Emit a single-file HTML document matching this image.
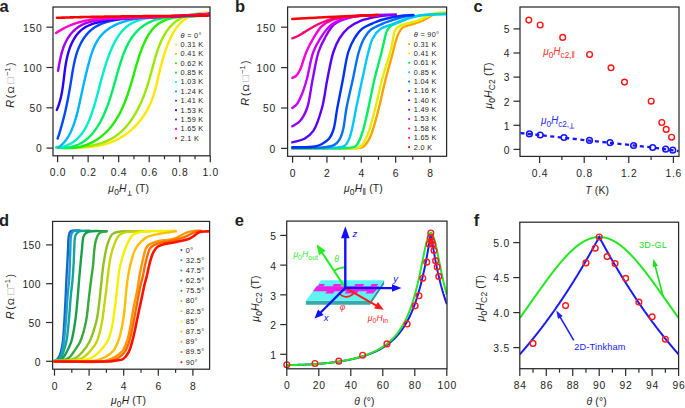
<!DOCTYPE html>
<html><head><meta charset="utf-8"><style>
html,body{margin:0;padding:0;background:#fff;}
body{width:685px;height:408px;overflow:hidden;}
svg{display:block;font-family:"Liberation Sans", sans-serif;}
text{fill:#1e1e1e;}
</style></head><body>
<svg width="685" height="408" viewBox="0 0 685 408">
<defs><clipPath id="cp0"><rect x="53" y="7" width="157" height="148.8"/></clipPath><clipPath id="cp1"><rect x="287.6" y="7" width="159" height="149.3"/></clipPath><clipPath id="cp2"><rect x="520" y="7" width="159" height="149.4"/></clipPath><clipPath id="cp3"><rect x="52.6" y="221.4" width="157" height="147.8"/></clipPath><clipPath id="cp4"><rect x="286.7" y="221.1" width="160.3" height="147.7"/></clipPath><clipPath id="cp5"><rect x="519.8" y="222.2" width="158.8" height="146.5"/></clipPath></defs>
<g clip-path="url(#cp0)">
<path d="M57.18,148.14 L58.42,148.11 L59.67,148.08 L60.92,148.05 L62.16,148.03 L63.41,148.01 L64.66,147.98 L65.91,147.96 L67.16,147.94 L68.41,147.91 L69.66,147.89 L70.91,147.86 L72.16,147.83 L73.41,147.80 L74.65,147.76 L75.90,147.73 L77.14,147.68 L78.39,147.63 L79.63,147.58 L80.86,147.52 L82.10,147.45 L83.33,147.37 L84.56,147.29 L85.79,147.20 L87.01,147.10 L88.23,146.99 L89.45,146.87 L90.66,146.74 L91.87,146.60 L93.08,146.45 L94.28,146.28 L95.47,146.11 L96.66,145.92 L97.85,145.71 L99.03,145.49 L100.20,145.26 L101.37,145.01 L102.53,144.75 L103.68,144.47 L104.83,144.17 L105.98,143.85 L107.11,143.52 L108.24,143.17 L109.36,142.80 L110.47,142.41 L111.58,142.00 L112.67,141.56 L113.76,141.11 L114.84,140.64 L115.91,140.14 L116.97,139.62 L118.03,139.08 L119.07,138.52 L120.11,137.94 L121.13,137.34 L122.14,136.72 L123.15,136.09 L124.14,135.43 L125.12,134.75 L126.10,134.06 L127.06,133.34 L128.01,132.61 L128.94,131.87 L129.87,131.10 L130.78,130.32 L131.69,129.52 L132.57,128.71 L133.45,127.88 L134.31,127.04 L135.17,126.18 L136.00,125.31 L136.83,124.42 L137.64,123.52 L138.43,122.60 L139.21,121.67 L139.98,120.73 L140.73,119.78 L141.47,118.82 L142.19,117.84 L142.90,116.85 L143.59,115.85 L144.27,114.84 L144.93,113.82 L145.57,112.79 L146.20,111.75 L146.81,110.70 L147.41,109.65 L147.98,108.58 L148.54,107.50 L149.09,106.42 L149.61,105.33 L150.12,104.23 L150.61,103.13 L151.08,102.02 L151.53,100.90 L151.96,99.78 L152.38,98.65 L152.78,97.51 L153.17,96.37 L153.54,95.23 L153.90,94.08 L154.25,92.93 L154.59,91.77 L154.92,90.60 L155.24,89.44 L155.54,88.27 L155.85,87.09 L156.14,85.92 L156.43,84.74 L156.72,83.56 L157.00,82.37 L157.28,81.18 L157.56,79.99 L157.83,78.80 L158.11,77.61 L158.38,76.42 L158.66,75.22 L158.94,74.03 L159.23,72.83 L159.52,71.63 L159.81,70.44 L160.11,69.24 L160.41,68.04 L160.72,66.85 L161.03,65.65 L161.35,64.46 L161.67,63.27 L162.00,62.08 L162.33,60.89 L162.67,59.70 L163.02,58.51 L163.37,57.33 L163.73,56.15 L164.10,54.97 L164.47,53.80 L164.85,52.63 L165.24,51.46 L165.63,50.30 L166.04,49.14 L166.45,47.99 L166.87,46.84 L167.29,45.69 L167.73,44.55 L168.18,43.42 L168.63,42.29 L169.10,41.17 L169.58,40.06 L170.07,38.96 L170.57,37.87 L171.09,36.80 L171.62,35.73 L172.17,34.68 L172.74,33.64 L173.32,32.62 L173.91,31.61 L174.53,30.62 L175.16,29.65 L175.82,28.69 L176.49,27.75 L177.19,26.84 L177.90,25.94 L178.64,25.07 L179.41,24.22 L180.19,23.39 L181.00,22.58 L181.84,21.81 L182.70,21.05 L183.59,20.33 L184.50,19.63 L185.44,18.96 L186.40,18.32 L187.39,17.71 L188.41,17.13 L189.45,16.58 L190.51,16.06 L191.60,15.58 L192.71,15.13 L193.85,14.72 L195.01,14.34 L196.20,14.00 L197.40,13.70 L198.63,13.44 L199.89,13.22 L201.16,13.03 L202.46,12.89 L203.78,12.79 L205.13,12.73 L206.49,12.72 L207.88,12.75 L209.28,12.83 L210.71,12.95" fill="none" stroke="#ffe800" stroke-width="2.4" stroke-linecap="round" stroke-linejoin="round" />
<path d="M57.73,147.74 L58.88,147.77 L60.04,147.79 L61.21,147.81 L62.39,147.83 L63.58,147.84 L64.77,147.84 L65.96,147.84 L67.16,147.84 L68.37,147.82 L69.58,147.80 L70.79,147.77 L72.01,147.73 L73.23,147.68 L74.45,147.63 L75.68,147.56 L76.90,147.49 L78.13,147.40 L79.36,147.30 L80.58,147.20 L81.81,147.08 L83.03,146.94 L84.25,146.80 L85.47,146.64 L86.69,146.47 L87.90,146.29 L89.11,146.09 L90.32,145.88 L91.52,145.65 L92.71,145.41 L93.90,145.15 L95.09,144.87 L96.26,144.58 L97.43,144.27 L98.59,143.95 L99.75,143.60 L100.89,143.24 L102.03,142.86 L103.15,142.46 L104.27,142.04 L105.37,141.60 L106.47,141.14 L107.55,140.66 L108.62,140.15 L109.67,139.63 L110.72,139.08 L111.75,138.51 L112.76,137.92 L113.76,137.31 L114.75,136.67 L115.72,136.00 L116.67,135.32 L117.61,134.61 L118.54,133.89 L119.45,133.14 L120.34,132.37 L121.23,131.58 L122.09,130.77 L122.95,129.94 L123.79,129.10 L124.61,128.24 L125.43,127.36 L126.22,126.46 L127.01,125.55 L127.78,124.62 L128.54,123.68 L129.28,122.72 L130.01,121.75 L130.73,120.76 L131.43,119.77 L132.12,118.76 L132.80,117.74 L133.47,116.71 L134.12,115.66 L134.76,114.61 L135.39,113.55 L136.01,112.48 L136.61,111.40 L137.21,110.31 L137.79,109.22 L138.36,108.12 L138.91,107.01 L139.46,105.90 L139.99,104.78 L140.51,103.66 L141.02,102.53 L141.52,101.40 L142.01,100.27 L142.49,99.13 L142.96,98.00 L143.41,96.86 L143.86,95.72 L144.29,94.58 L144.72,93.44 L145.13,92.30 L145.54,91.17 L145.93,90.03 L146.32,88.90 L146.69,87.76 L147.06,86.63 L147.42,85.50 L147.77,84.37 L148.12,83.24 L148.46,82.11 L148.80,80.97 L149.13,79.84 L149.45,78.71 L149.77,77.57 L150.09,76.43 L150.41,75.29 L150.73,74.15 L151.04,73.00 L151.35,71.86 L151.66,70.70 L151.98,69.55 L152.29,68.39 L152.60,67.23 L152.92,66.06 L153.24,64.88 L153.56,63.71 L153.89,62.52 L154.22,61.34 L154.55,60.15 L154.89,58.96 L155.24,57.77 L155.59,56.57 L155.95,55.38 L156.32,54.19 L156.69,53.00 L157.08,51.82 L157.47,50.64 L157.87,49.46 L158.29,48.30 L158.71,47.13 L159.15,45.98 L159.60,44.83 L160.06,43.70 L160.53,42.57 L161.02,41.45 L161.52,40.35 L162.04,39.26 L162.57,38.19 L163.12,37.12 L163.69,36.08 L164.27,35.05 L164.87,34.03 L165.49,33.04 L166.12,32.06 L166.77,31.10 L167.45,30.16 L168.14,29.24 L168.85,28.34 L169.58,27.45 L170.33,26.60 L171.10,25.76 L171.90,24.94 L172.71,24.15 L173.55,23.39 L174.40,22.64 L175.29,21.92 L176.19,21.23 L177.12,20.57 L178.07,19.93 L179.04,19.32 L180.04,18.73 L181.07,18.18 L182.12,17.66 L183.19,17.16 L184.29,16.70 L185.41,16.26 L186.56,15.86 L187.72,15.49 L188.90,15.16 L190.10,14.85 L191.31,14.59 L192.54,14.35 L193.79,14.16 L195.05,13.99 L196.31,13.87 L197.59,13.78 L198.88,13.73 L200.18,13.72 L201.48,13.75 L202.79,13.82 L204.10,13.92 L205.41,14.07 L206.73,14.26 L208.05,14.50 L209.36,14.77 L210.68,15.09" fill="none" stroke="#99ea00" stroke-width="2.4" stroke-linecap="round" stroke-linejoin="round" />
<path d="M56.94,146.99 L58.27,147.25 L59.60,147.47 L60.92,147.67 L62.23,147.83 L63.53,147.96 L64.83,148.05 L66.12,148.12 L67.40,148.15 L68.67,148.16 L69.93,148.13 L71.19,148.07 L72.43,147.99 L73.67,147.87 L74.90,147.73 L76.12,147.55 L77.32,147.35 L78.52,147.12 L79.71,146.87 L80.89,146.59 L82.05,146.28 L83.21,145.94 L84.36,145.58 L85.49,145.20 L86.61,144.79 L87.72,144.35 L88.82,143.90 L89.91,143.41 L90.98,142.91 L92.05,142.38 L93.10,141.83 L94.13,141.26 L95.16,140.66 L96.17,140.05 L97.16,139.41 L98.15,138.76 L99.12,138.08 L100.07,137.38 L101.01,136.67 L101.94,135.93 L102.85,135.18 L103.75,134.41 L104.63,133.62 L105.49,132.81 L106.34,131.99 L107.18,131.15 L108.00,130.30 L108.80,129.43 L109.58,128.54 L110.35,127.64 L111.11,126.72 L111.85,125.79 L112.57,124.85 L113.28,123.89 L113.97,122.92 L114.65,121.94 L115.31,120.94 L115.96,119.94 L116.59,118.92 L117.22,117.89 L117.83,116.85 L118.42,115.80 L119.01,114.74 L119.58,113.68 L120.14,112.60 L120.68,111.51 L121.22,110.42 L121.75,109.32 L122.26,108.21 L122.76,107.09 L123.26,105.97 L123.74,104.84 L124.21,103.70 L124.68,102.56 L125.13,101.42 L125.58,100.27 L126.01,99.11 L126.44,97.96 L126.86,96.79 L127.28,95.63 L127.68,94.46 L128.08,93.29 L128.47,92.12 L128.86,90.95 L129.24,89.77 L129.61,88.60 L129.98,87.43 L130.34,86.25 L130.69,85.08 L131.04,83.90 L131.39,82.73 L131.73,81.56 L132.07,80.39 L132.41,79.23 L132.74,78.06 L133.07,76.91 L133.39,75.75 L133.71,74.60 L134.03,73.45 L134.36,72.30 L134.68,71.15 L135.00,70.01 L135.32,68.87 L135.64,67.72 L135.97,66.58 L136.30,65.44 L136.63,64.30 L136.97,63.17 L137.31,62.03 L137.66,60.89 L138.01,59.74 L138.37,58.60 L138.74,57.46 L139.12,56.31 L139.50,55.17 L139.90,54.02 L140.30,52.86 L140.72,51.71 L141.14,50.55 L141.58,49.39 L142.03,48.22 L142.50,47.06 L142.97,45.89 L143.46,44.73 L143.97,43.57 L144.49,42.42 L145.03,41.28 L145.58,40.15 L146.15,39.03 L146.73,37.93 L147.33,36.84 L147.95,35.77 L148.59,34.71 L149.25,33.68 L149.92,32.68 L150.62,31.69 L151.33,30.73 L152.07,29.81 L152.82,28.91 L153.60,28.04 L154.40,27.21 L155.22,26.41 L156.07,25.65 L156.94,24.93 L157.83,24.25 L158.74,23.60 L159.67,22.99 L160.63,22.41 L161.60,21.86 L162.59,21.34 L163.60,20.86 L164.63,20.40 L165.67,19.98 L166.73,19.58 L167.81,19.20 L168.90,18.85 L170.01,18.53 L171.13,18.23 L172.26,17.95 L173.41,17.69 L174.57,17.45 L175.74,17.23 L176.92,17.02 L178.11,16.84 L179.31,16.66 L180.51,16.51 L181.73,16.36 L182.95,16.23 L184.18,16.11 L185.42,16.00 L186.66,15.90 L187.91,15.80 L189.16,15.71 L190.41,15.63 L191.67,15.56 L192.93,15.48 L194.19,15.41 L195.45,15.34 L196.71,15.27 L197.98,15.20 L199.24,15.13 L200.50,15.05 L201.75,14.97 L203.01,14.89 L204.26,14.80 L205.50,14.70 L206.74,14.59 L207.98,14.48 L209.21,14.35 L210.43,14.21" fill="none" stroke="#22ee00" stroke-width="2.4" stroke-linecap="round" stroke-linejoin="round" />
<path d="M56.21,147.46 L57.73,147.62 L59.23,147.74 L60.69,147.82 L62.13,147.84 L63.54,147.83 L64.92,147.76 L66.27,147.66 L67.60,147.52 L68.89,147.33 L70.17,147.11 L71.41,146.84 L72.63,146.54 L73.82,146.20 L74.99,145.82 L76.14,145.41 L77.26,144.97 L78.35,144.49 L79.43,143.97 L80.47,143.43 L81.50,142.85 L82.50,142.25 L83.49,141.61 L84.45,140.95 L85.38,140.26 L86.30,139.54 L87.20,138.80 L88.07,138.03 L88.93,137.24 L89.77,136.42 L90.59,135.58 L91.39,134.72 L92.17,133.84 L92.93,132.94 L93.67,132.03 L94.40,131.09 L95.11,130.14 L95.81,129.17 L96.48,128.19 L97.14,127.19 L97.79,126.18 L98.42,125.15 L99.04,124.12 L99.64,123.07 L100.23,122.02 L100.80,120.95 L101.37,119.88 L101.91,118.80 L102.45,117.71 L102.97,116.62 L103.49,115.52 L103.99,114.42 L104.48,113.31 L104.96,112.20 L105.43,111.08 L105.88,109.96 L106.33,108.84 L106.77,107.71 L107.20,106.58 L107.63,105.44 L108.04,104.30 L108.45,103.16 L108.85,102.01 L109.24,100.86 L109.63,99.71 L110.01,98.55 L110.38,97.39 L110.75,96.23 L111.11,95.07 L111.47,93.90 L111.83,92.73 L112.18,91.56 L112.52,90.39 L112.87,89.22 L113.21,88.04 L113.55,86.87 L113.88,85.69 L114.22,84.51 L114.55,83.33 L114.88,82.15 L115.21,80.97 L115.54,79.79 L115.87,78.61 L116.20,77.43 L116.54,76.24 L116.87,75.06 L117.20,73.88 L117.54,72.70 L117.88,71.52 L118.22,70.34 L118.56,69.16 L118.91,67.98 L119.26,66.81 L119.62,65.63 L119.98,64.46 L120.35,63.29 L120.72,62.12 L121.09,60.95 L121.47,59.78 L121.86,58.62 L122.26,57.46 L122.67,56.31 L123.08,55.16 L123.51,54.02 L123.94,52.88 L124.39,51.76 L124.85,50.63 L125.32,49.52 L125.80,48.42 L126.30,47.32 L126.81,46.24 L127.34,45.17 L127.88,44.10 L128.44,43.06 L129.02,42.02 L129.62,40.99 L130.23,39.98 L130.87,38.99 L131.52,38.01 L132.19,37.05 L132.89,36.10 L133.61,35.17 L134.34,34.26 L135.10,33.36 L135.88,32.49 L136.68,31.63 L137.49,30.79 L138.33,29.98 L139.18,29.18 L140.06,28.41 L140.95,27.66 L141.86,26.94 L142.79,26.24 L143.74,25.56 L144.70,24.91 L145.68,24.28 L146.68,23.68 L147.70,23.11 L148.73,22.57 L149.78,22.05 L150.84,21.56 L151.92,21.10 L153.02,20.68 L154.13,20.28 L155.25,19.91 L156.39,19.57 L157.54,19.26 L158.71,18.98 L159.89,18.71 L161.07,18.48 L162.27,18.26 L163.48,18.07 L164.70,17.89 L165.92,17.74 L167.15,17.60 L168.39,17.47 L169.64,17.37 L170.89,17.27 L172.14,17.19 L173.40,17.12 L174.66,17.05 L175.93,17.00 L177.19,16.95 L178.46,16.91 L179.73,16.87 L180.99,16.84 L182.26,16.81 L183.52,16.78 L184.78,16.75 L186.04,16.72 L187.29,16.68 L188.54,16.64 L189.79,16.60 L191.02,16.55 L192.26,16.49 L193.48,16.42 L194.70,16.34 L195.90,16.25 L197.10,16.14 L198.29,16.02 L199.47,15.89 L200.63,15.74 L201.79,15.57 L202.93,15.38 L204.06,15.17 L205.17,14.94 L206.27,14.69 L207.36,14.41 L208.43,14.11 L209.48,13.78" fill="none" stroke="#00ee66" stroke-width="2.4" stroke-linecap="round" stroke-linejoin="round" />
<path d="M57.22,147.89 L58.61,147.69 L59.96,147.45 L61.28,147.17 L62.56,146.86 L63.81,146.50 L65.02,146.11 L66.20,145.68 L67.35,145.22 L68.47,144.72 L69.55,144.18 L70.60,143.62 L71.62,143.02 L72.61,142.39 L73.58,141.73 L74.51,141.04 L75.42,140.33 L76.30,139.58 L77.15,138.81 L77.98,138.01 L78.78,137.19 L79.56,136.34 L80.31,135.47 L81.04,134.58 L81.75,133.67 L82.44,132.73 L83.10,131.77 L83.75,130.80 L84.37,129.81 L84.98,128.80 L85.56,127.77 L86.13,126.73 L86.68,125.67 L87.22,124.60 L87.74,123.51 L88.24,122.42 L88.73,121.31 L89.21,120.19 L89.67,119.06 L90.12,117.92 L90.56,116.78 L90.98,115.62 L91.40,114.46 L91.80,113.30 L92.20,112.13 L92.59,110.96 L92.96,109.78 L93.34,108.60 L93.70,107.42 L94.06,106.25 L94.41,105.07 L94.76,103.89 L95.10,102.71 L95.44,101.53 L95.78,100.35 L96.11,99.17 L96.44,98.00 L96.76,96.82 L97.08,95.64 L97.40,94.47 L97.71,93.29 L98.03,92.12 L98.34,90.94 L98.65,89.77 L98.96,88.59 L99.27,87.42 L99.58,86.25 L99.89,85.07 L100.20,83.90 L100.51,82.73 L100.82,81.56 L101.14,80.39 L101.45,79.22 L101.77,78.06 L102.09,76.89 L102.41,75.72 L102.74,74.56 L103.07,73.39 L103.40,72.23 L103.74,71.07 L104.08,69.91 L104.42,68.75 L104.78,67.59 L105.13,66.43 L105.50,65.27 L105.86,64.11 L106.24,62.96 L106.62,61.80 L107.01,60.65 L107.41,59.50 L107.81,58.35 L108.23,57.20 L108.65,56.05 L109.08,54.90 L109.52,53.76 L109.96,52.61 L110.42,51.47 L110.89,50.33 L111.37,49.19 L111.86,48.06 L112.36,46.94 L112.88,45.82 L113.41,44.71 L113.95,43.61 L114.50,42.52 L115.07,41.44 L115.66,40.38 L116.26,39.33 L116.87,38.29 L117.51,37.27 L118.15,36.27 L118.82,35.29 L119.50,34.33 L120.21,33.39 L120.93,32.47 L121.67,31.58 L122.43,30.71 L123.21,29.86 L124.01,29.04 L124.83,28.25 L125.67,27.49 L126.54,26.76 L127.43,26.06 L128.34,25.40 L129.28,24.76 L130.23,24.16 L131.21,23.59 L132.21,23.04 L133.23,22.53 L134.26,22.04 L135.32,21.58 L136.39,21.15 L137.47,20.74 L138.57,20.36 L139.69,20.00 L140.82,19.67 L141.96,19.35 L143.11,19.06 L144.28,18.79 L145.45,18.54 L146.64,18.31 L147.83,18.09 L149.03,17.90 L150.24,17.72 L151.46,17.55 L152.68,17.40 L153.90,17.27 L155.13,17.14 L156.36,17.03 L157.59,16.94 L158.83,16.85 L160.07,16.77 L161.31,16.71 L162.55,16.65 L163.80,16.60 L165.04,16.56 L166.29,16.52 L167.53,16.50 L168.78,16.47 L170.03,16.45 L171.27,16.44 L172.52,16.43 L173.77,16.42 L175.01,16.42 L176.26,16.41 L177.50,16.41 L178.74,16.41 L179.98,16.40 L181.21,16.40 L182.45,16.39 L183.68,16.38 L184.90,16.36 L186.13,16.35 L187.35,16.32 L188.57,16.29 L189.78,16.26 L190.98,16.22 L192.19,16.17 L193.38,16.11 L194.58,16.04 L195.76,15.96 L196.94,15.88 L198.12,15.78 L199.29,15.67 L200.45,15.54 L201.60,15.41 L202.75,15.25 L203.89,15.09 L205.02,14.91 L206.14,14.71 L207.26,14.50 L208.36,14.27 L209.46,14.02" fill="none" stroke="#00eecc" stroke-width="2.4" stroke-linecap="round" stroke-linejoin="round" />
<path d="M58.48,147.28 L59.46,146.57 L60.40,145.84 L61.30,145.08 L62.17,144.28 L63.01,143.47 L63.81,142.62 L64.58,141.75 L65.32,140.86 L66.03,139.94 L66.71,139.00 L67.36,138.04 L67.99,137.06 L68.59,136.06 L69.17,135.04 L69.72,134.01 L70.26,132.96 L70.77,131.90 L71.26,130.83 L71.74,129.74 L72.20,128.64 L72.64,127.53 L73.07,126.42 L73.48,125.29 L73.88,124.16 L74.27,123.03 L74.65,121.88 L75.02,120.74 L75.38,119.58 L75.73,118.42 L76.07,117.26 L76.40,116.10 L76.72,114.93 L77.03,113.75 L77.34,112.58 L77.64,111.40 L77.93,110.22 L78.22,109.03 L78.50,107.85 L78.78,106.66 L79.05,105.47 L79.32,104.28 L79.58,103.09 L79.84,101.90 L80.10,100.71 L80.36,99.52 L80.61,98.33 L80.87,97.14 L81.12,95.96 L81.37,94.77 L81.63,93.59 L81.88,92.40 L82.13,91.22 L82.39,90.04 L82.65,88.87 L82.90,87.69 L83.16,86.51 L83.42,85.33 L83.68,84.16 L83.95,82.98 L84.21,81.80 L84.48,80.62 L84.75,79.45 L85.02,78.27 L85.30,77.08 L85.58,75.90 L85.86,74.72 L86.15,73.53 L86.44,72.34 L86.73,71.15 L87.03,69.95 L87.33,68.76 L87.63,67.56 L87.94,66.35 L88.26,65.14 L88.58,63.93 L88.91,62.72 L89.24,61.50 L89.58,60.29 L89.92,59.07 L90.28,57.86 L90.65,56.65 L91.03,55.44 L91.42,54.24 L91.82,53.05 L92.23,51.87 L92.66,50.70 L93.11,49.54 L93.57,48.39 L94.04,47.26 L94.54,46.14 L95.05,45.04 L95.58,43.95 L96.13,42.89 L96.71,41.84 L97.30,40.82 L97.92,39.82 L98.56,38.85 L99.22,37.90 L99.92,36.97 L100.63,36.08 L101.37,35.21 L102.14,34.37 L102.92,33.55 L103.74,32.76 L104.57,31.99 L105.42,31.25 L106.30,30.54 L107.20,29.85 L108.11,29.18 L109.05,28.53 L110.00,27.91 L110.98,27.31 L111.97,26.73 L112.98,26.17 L114.00,25.64 L115.04,25.12 L116.10,24.63 L117.17,24.15 L118.25,23.70 L119.35,23.26 L120.46,22.84 L121.58,22.44 L122.72,22.06 L123.86,21.70 L125.02,21.35 L126.19,21.02 L127.36,20.70 L128.55,20.40 L129.74,20.12 L130.94,19.85 L132.15,19.59 L133.36,19.35 L134.58,19.12 L135.81,18.91 L137.04,18.70 L138.27,18.52 L139.51,18.34 L140.75,18.17 L141.99,18.02 L143.24,17.87 L144.48,17.74 L145.73,17.61 L146.97,17.50 L148.22,17.39 L149.46,17.29 L150.71,17.20 L151.95,17.12 L153.18,17.05 L154.42,16.98 L155.65,16.92 L156.88,16.86 L158.10,16.81 L159.32,16.77 L160.54,16.73 L161.76,16.70 L162.97,16.66 L164.18,16.64 L165.39,16.61 L166.60,16.59 L167.81,16.57 L169.01,16.55 L170.21,16.54 L171.41,16.52 L172.61,16.51 L173.81,16.49 L175.01,16.48 L176.21,16.47 L177.41,16.45 L178.60,16.43 L179.80,16.41 L181.00,16.39 L182.19,16.37 L183.39,16.34 L184.58,16.31 L185.78,16.27 L186.98,16.23 L188.18,16.19 L189.38,16.14 L190.58,16.09 L191.78,16.03 L192.98,15.96 L194.19,15.88 L195.39,15.80 L196.60,15.71 L197.81,15.62 L199.02,15.51 L200.24,15.40 L201.45,15.27 L202.67,15.14 L203.89,14.99 L205.12,14.84 L206.35,14.67 L207.58,14.49 L208.81,14.31 L210.05,14.10" fill="none" stroke="#00b4ff" stroke-width="2.4" stroke-linecap="round" stroke-linejoin="round" />
<path d="M57.61,138.60 L58.01,137.40 L58.40,136.21 L58.79,135.02 L59.16,133.83 L59.54,132.64 L59.90,131.46 L60.26,130.28 L60.61,129.11 L60.96,127.93 L61.30,126.76 L61.63,125.59 L61.96,124.42 L62.28,123.26 L62.60,122.09 L62.91,120.93 L63.21,119.77 L63.51,118.61 L63.81,117.45 L64.10,116.29 L64.38,115.13 L64.66,113.97 L64.94,112.81 L65.21,111.65 L65.48,110.49 L65.74,109.34 L66.00,108.18 L66.25,107.02 L66.50,105.85 L66.75,104.69 L66.99,103.53 L67.23,102.36 L67.47,101.20 L67.70,100.03 L67.93,98.86 L68.16,97.68 L68.38,96.51 L68.60,95.33 L68.82,94.15 L69.03,92.97 L69.25,91.78 L69.46,90.59 L69.67,89.40 L69.87,88.20 L70.08,87.01 L70.28,85.80 L70.48,84.59 L70.68,83.38 L70.88,82.17 L71.07,80.94 L71.27,79.72 L71.46,78.49 L71.66,77.25 L71.86,76.02 L72.05,74.78 L72.25,73.54 L72.46,72.30 L72.67,71.06 L72.88,69.82 L73.10,68.58 L73.33,67.34 L73.56,66.10 L73.80,64.87 L74.06,63.64 L74.32,62.42 L74.59,61.20 L74.87,59.98 L75.17,58.78 L75.48,57.58 L75.80,56.39 L76.14,55.20 L76.50,54.03 L76.87,52.86 L77.26,51.71 L77.66,50.57 L78.09,49.44 L78.53,48.32 L79.00,47.22 L79.48,46.12 L79.98,45.05 L80.50,43.99 L81.04,42.94 L81.60,41.91 L82.18,40.90 L82.78,39.91 L83.39,38.93 L84.03,37.98 L84.70,37.04 L85.38,36.13 L86.08,35.23 L86.80,34.36 L87.55,33.51 L88.31,32.68 L89.10,31.88 L89.91,31.11 L90.74,30.35 L91.60,29.63 L92.47,28.93 L93.37,28.26 L94.29,27.61 L95.24,27.00 L96.20,26.41 L97.19,25.85 L98.20,25.32 L99.23,24.81 L100.28,24.33 L101.34,23.88 L102.42,23.45 L103.52,23.04 L104.64,22.65 L105.76,22.29 L106.91,21.94 L108.06,21.62 L109.23,21.32 L110.41,21.03 L111.59,20.76 L112.79,20.51 L113.99,20.28 L115.21,20.06 L116.42,19.85 L117.65,19.66 L118.88,19.48 L120.11,19.32 L121.34,19.16 L122.58,19.02 L123.82,18.89 L125.06,18.76 L126.30,18.65 L127.54,18.54 L128.78,18.44 L130.02,18.35 L131.26,18.27 L132.50,18.19 L133.75,18.12 L134.99,18.05 L136.23,17.99 L137.47,17.93 L138.71,17.88 L139.95,17.82 L141.18,17.78 L142.42,17.73 L143.65,17.68 L144.88,17.64 L146.11,17.60 L147.34,17.55 L148.57,17.51 L149.79,17.46 L151.01,17.42 L152.22,17.37 L153.44,17.32 L154.65,17.27 L155.86,17.21 L157.06,17.16 L158.27,17.10 L159.47,17.04 L160.67,16.99 L161.87,16.93 L163.07,16.87 L164.26,16.80 L165.46,16.74 L166.65,16.68 L167.84,16.61 L169.03,16.55 L170.23,16.48 L171.42,16.42 L172.61,16.35 L173.80,16.29 L174.99,16.22 L176.18,16.15 L177.37,16.09 L178.56,16.02 L179.75,15.95 L180.94,15.89 L182.14,15.82 L183.33,15.75 L184.53,15.69 L185.72,15.62 L186.92,15.56 L188.12,15.49 L189.32,15.43 L190.53,15.36 L191.73,15.30 L192.94,15.24 L194.15,15.18 L195.36,15.12 L196.58,15.06 L197.80,15.01 L199.02,14.95 L200.24,14.90 L201.47,14.84 L202.70,14.79 L203.94,14.74 L205.17,14.69 L206.42,14.65 L207.66,14.60 L208.91,14.56 L210.17,14.52" fill="none" stroke="#0048ff" stroke-width="2.4" stroke-linecap="round" stroke-linejoin="round" />
<path d="M56.76,109.97 L57.23,108.89 L57.67,107.81 L58.10,106.72 L58.50,105.62 L58.88,104.51 L59.25,103.39 L59.59,102.27 L59.92,101.13 L60.23,99.99 L60.52,98.85 L60.80,97.70 L61.06,96.54 L61.32,95.37 L61.55,94.20 L61.78,93.02 L61.99,91.84 L62.20,90.66 L62.39,89.47 L62.58,88.27 L62.76,87.07 L62.93,85.87 L63.09,84.66 L63.25,83.45 L63.41,82.24 L63.56,81.02 L63.70,79.80 L63.85,78.58 L63.99,77.36 L64.14,76.13 L64.29,74.90 L64.43,73.68 L64.59,72.45 L64.74,71.22 L64.90,69.99 L65.07,68.76 L65.24,67.53 L65.43,66.30 L65.62,65.07 L65.82,63.84 L66.03,62.62 L66.26,61.39 L66.49,60.17 L66.74,58.94 L67.01,57.73 L67.29,56.51 L67.59,55.29 L67.91,54.08 L68.24,52.88 L68.60,51.68 L68.97,50.49 L69.36,49.30 L69.78,48.13 L70.21,46.96 L70.66,45.81 L71.14,44.68 L71.63,43.56 L72.15,42.46 L72.69,41.37 L73.25,40.31 L73.83,39.27 L74.44,38.24 L75.07,37.25 L75.73,36.28 L76.41,35.33 L77.11,34.42 L77.84,33.53 L78.60,32.67 L79.38,31.85 L80.19,31.06 L81.02,30.31 L81.88,29.59 L82.77,28.91 L83.69,28.26 L84.63,27.65 L85.59,27.07 L86.57,26.52 L87.58,26.01 L88.61,25.52 L89.65,25.06 L90.71,24.63 L91.79,24.22 L92.89,23.83 L94.00,23.47 L95.12,23.13 L96.26,22.81 L97.40,22.51 L98.56,22.22 L99.72,21.95 L100.90,21.70 L102.08,21.45 L103.26,21.22 L104.45,21.00 L105.64,20.79 L106.84,20.59 L108.03,20.40 L109.23,20.21 L110.43,20.03 L111.63,19.86 L112.84,19.69 L114.04,19.53 L115.25,19.38 L116.46,19.24 L117.67,19.10 L118.88,18.96 L120.09,18.84 L121.31,18.71 L122.52,18.60 L123.74,18.49 L124.95,18.38 L126.17,18.28 L127.39,18.19 L128.61,18.10 L129.83,18.01 L131.06,17.93 L132.28,17.85 L133.50,17.78 L134.73,17.71 L135.95,17.64 L137.18,17.58 L138.40,17.52 L139.63,17.46 L140.86,17.41 L142.08,17.36 L143.31,17.31 L144.54,17.27 L145.77,17.22 L147.00,17.18 L148.22,17.14 L149.45,17.11 L150.68,17.07 L151.91,17.04 L153.13,17.00 L154.36,16.97 L155.59,16.94 L156.82,16.91 L158.04,16.88 L159.27,16.85 L160.49,16.82 L161.72,16.79 L162.94,16.76 L164.16,16.73 L165.39,16.70 L166.61,16.67 L167.83,16.63 L169.05,16.60 L170.27,16.56 L171.49,16.53 L172.70,16.49 L173.92,16.45 L175.13,16.41 L176.35,16.36 L177.56,16.32 L178.77,16.27 L179.98,16.22 L181.19,16.16 L182.39,16.11 L183.60,16.05 L184.80,15.98 L186.00,15.91 L187.20,15.84 L188.40,15.77 L189.59,15.69 L190.79,15.61 L191.98,15.52 L193.17,15.43 L194.35,15.33 L195.54,15.23 L196.72,15.12 L197.90,15.01 L199.08,14.89 L200.26,14.76 L201.43,14.63 L202.60,14.50 L203.77,14.36 L204.93,14.21 L206.10,14.05 L207.26,13.89 L208.41,13.72 L209.57,13.55" fill="none" stroke="#2a00ff" stroke-width="2.4" stroke-linecap="round" stroke-linejoin="round" />
<path d="M58.03,70.72 L58.26,69.48 L58.48,68.22 L58.70,66.97 L58.93,65.71 L59.16,64.44 L59.40,63.18 L59.64,61.91 L59.89,60.65 L60.15,59.39 L60.42,58.13 L60.71,56.87 L61.00,55.63 L61.31,54.39 L61.64,53.15 L61.98,51.93 L62.34,50.72 L62.72,49.52 L63.12,48.34 L63.53,47.16 L63.97,46.01 L64.44,44.87 L64.93,43.75 L65.44,42.64 L65.97,41.56 L66.53,40.50 L67.11,39.45 L67.71,38.43 L68.34,37.43 L68.99,36.46 L69.66,35.51 L70.36,34.58 L71.08,33.68 L71.82,32.81 L72.58,31.96 L73.36,31.14 L74.17,30.35 L75.00,29.59 L75.86,28.86 L76.73,28.16 L77.63,27.50 L78.55,26.87 L79.49,26.27 L80.45,25.70 L81.43,25.16 L82.43,24.65 L83.45,24.17 L84.49,23.72 L85.54,23.30 L86.61,22.90 L87.70,22.53 L88.80,22.18 L89.92,21.85 L91.05,21.55 L92.20,21.27 L93.35,21.01 L94.52,20.77 L95.70,20.55 L96.89,20.34 L98.09,20.15 L99.30,19.98 L100.52,19.83 L101.74,19.68 L102.98,19.55 L104.21,19.44 L105.46,19.33 L106.70,19.23 L107.96,19.15 L109.21,19.07 L110.47,19.00 L111.73,18.94 L112.99,18.88 L114.26,18.83 L115.52,18.78 L116.78,18.73 L118.04,18.69 L119.30,18.65 L120.55,18.60 L121.80,18.56 L123.05,18.52 L124.30,18.47 L125.54,18.42 L126.77,18.38 L128.01,18.33 L129.24,18.28 L130.47,18.23 L131.69,18.17 L132.91,18.12 L134.13,18.07 L135.35,18.01 L136.56,17.96 L137.77,17.90 L138.98,17.84 L140.19,17.79 L141.39,17.73 L142.59,17.67 L143.79,17.61 L144.99,17.55 L146.19,17.49 L147.39,17.42 L148.58,17.36 L149.77,17.30 L150.97,17.23 L152.16,17.17 L153.35,17.10 L154.54,17.04 L155.73,16.97 L156.91,16.91 L158.10,16.84 L159.29,16.77 L160.48,16.71 L161.66,16.64 L162.85,16.57 L164.04,16.50 L165.23,16.44 L166.41,16.37 L167.60,16.30 L168.79,16.23 L169.98,16.16 L171.17,16.09 L172.36,16.02 L173.56,15.95 L174.75,15.89 L175.95,15.82 L177.14,15.75 L178.34,15.68 L179.54,15.61 L180.74,15.54 L181.95,15.47 L183.15,15.40 L184.36,15.34 L185.57,15.27 L186.78,15.20 L188.00,15.13 L189.21,15.07 L190.43,15.00 L191.66,14.93 L192.88,14.87 L194.11,14.80 L195.34,14.74 L196.58,14.67 L197.82,14.61 L199.06,14.55 L200.30,14.48 L201.55,14.42 L202.81,14.36 L204.06,14.30 L205.32,14.24 L206.59,14.18 L207.86,14.12 L209.13,14.06 L210.41,14.00" fill="none" stroke="#a000ff" stroke-width="2.4" stroke-linecap="round" stroke-linejoin="round" />
<path d="M56.13,32.99 L57.21,32.26 L58.29,31.56 L59.37,30.87 L60.45,30.22 L61.54,29.58 L62.64,28.97 L63.74,28.37 L64.84,27.80 L65.94,27.25 L67.05,26.73 L68.16,26.22 L69.28,25.73 L70.40,25.26 L71.52,24.81 L72.65,24.38 L73.78,23.97 L74.91,23.58 L76.04,23.20 L77.18,22.84 L78.32,22.50 L79.47,22.18 L80.62,21.87 L81.77,21.57 L82.92,21.29 L84.08,21.03 L85.24,20.78 L86.40,20.54 L87.56,20.32 L88.73,20.11 L89.90,19.91 L91.07,19.73 L92.25,19.55 L93.43,19.39 L94.61,19.24 L95.79,19.10 L96.97,18.97 L98.16,18.85 L99.35,18.74 L100.54,18.64 L101.73,18.55 L102.92,18.46 L104.12,18.38 L105.32,18.31 L106.52,18.25 L107.72,18.20 L108.92,18.14 L110.13,18.10 L111.34,18.06 L112.54,18.03 L113.75,18.00 L114.97,17.97 L116.18,17.95 L117.39,17.93 L118.61,17.91 L119.82,17.90 L121.04,17.89 L122.26,17.88 L123.48,17.87 L124.70,17.86 L125.92,17.85 L127.15,17.84 L128.37,17.83 L129.60,17.82 L130.82,17.81 L132.05,17.80 L133.27,17.79 L134.50,17.77 L135.73,17.75 L136.96,17.73 L138.19,17.70 L139.42,17.68 L140.65,17.65 L141.88,17.62 L143.11,17.58 L144.34,17.55 L145.57,17.51 L146.80,17.47 L148.03,17.43 L149.26,17.39 L150.49,17.34 L151.72,17.29 L152.95,17.25 L154.18,17.20 L155.41,17.15 L156.64,17.09 L157.87,17.04 L159.10,16.99 L160.32,16.93 L161.55,16.87 L162.78,16.81 L164.00,16.75 L165.23,16.69 L166.45,16.63 L167.68,16.57 L168.90,16.51 L170.12,16.44 L171.34,16.38 L172.56,16.32 L173.78,16.25 L175.00,16.19 L176.22,16.12 L177.43,16.05 L178.65,15.99 L179.86,15.92 L181.07,15.85 L182.28,15.79 L183.49,15.72 L184.70,15.66 L185.90,15.59 L187.10,15.52 L188.31,15.46 L189.51,15.39 L190.70,15.33 L191.90,15.26 L193.09,15.20 L194.29,15.14 L195.48,15.08 L196.67,15.01 L197.85,14.95 L199.04,14.89 L200.22,14.83 L201.40,14.78 L202.57,14.72 L203.75,14.66 L204.92,14.61 L206.09,14.56 L207.26,14.51 L208.42,14.46 L209.58,14.41" fill="none" stroke="#ff00d0" stroke-width="2.4" stroke-linecap="round" stroke-linejoin="round" />
<path d="M57.00,17.80 L58.22,17.76 L59.43,17.73 L60.64,17.69 L61.86,17.65 L63.07,17.61 L64.29,17.58 L65.50,17.54 L66.71,17.51 L67.93,17.47 L69.14,17.44 L70.36,17.40 L71.57,17.37 L72.78,17.34 L74.00,17.31 L75.21,17.27 L76.43,17.24 L77.64,17.21 L78.85,17.18 L80.07,17.15 L81.28,17.13 L82.50,17.10 L83.71,17.07 L84.92,17.04 L86.14,17.02 L87.35,16.99 L88.57,16.96 L89.78,16.94 L91.00,16.91 L92.21,16.89 L93.42,16.87 L94.64,16.84 L95.85,16.82 L97.07,16.80 L98.28,16.77 L99.50,16.75 L100.71,16.73 L101.92,16.71 L103.14,16.69 L104.35,16.67 L105.57,16.65 L106.78,16.63 L107.99,16.61 L109.21,16.59 L110.42,16.57 L111.64,16.55 L112.85,16.53 L114.07,16.52 L115.28,16.50 L116.49,16.48 L117.71,16.47 L118.92,16.45 L120.14,16.43 L121.35,16.42 L122.57,16.40 L123.78,16.39 L124.99,16.37 L126.21,16.36 L127.42,16.34 L128.64,16.33 L129.85,16.31 L131.07,16.30 L132.28,16.28 L133.50,16.27 L134.71,16.26 L135.92,16.25 L137.14,16.23 L138.35,16.22 L139.57,16.21 L140.78,16.19 L142.00,16.18 L143.21,16.17 L144.42,16.16 L145.64,16.15 L146.85,16.14 L148.07,16.12 L149.28,16.11 L150.50,16.10 L151.71,16.09 L152.92,16.08 L154.14,16.07 L155.35,16.06 L156.57,16.05 L157.78,16.04 L159.00,16.03 L160.21,16.02 L161.43,16.00 L162.64,15.99 L163.85,15.98 L165.07,15.97 L166.28,15.96 L167.50,15.95 L168.71,15.94 L169.93,15.93 L171.14,15.92 L172.35,15.91 L173.57,15.90 L174.78,15.89 L176.00,15.88 L177.21,15.87 L178.43,15.86 L179.64,15.85 L180.86,15.84 L182.07,15.83 L183.28,15.82 L184.50,15.81 L185.71,15.80 L186.93,15.79 L188.14,15.78 L189.36,15.76 L190.57,15.75 L191.79,15.74 L193.00,15.73 L194.21,15.72 L195.43,15.71 L196.64,15.70 L197.86,15.68 L199.07,15.67 L200.29,15.66 L201.50,15.65 L202.71,15.63 L203.93,15.62 L205.14,15.61 L206.36,15.60 L207.57,15.58 L208.79,15.57 L210.00,15.56" fill="none" stroke="#ff0000" stroke-width="2.6" stroke-linecap="round" stroke-linejoin="round" />
</g>
<g clip-path="url(#cp1)">
<path d="M292.3,148.5 C312.2,148.47 339.99,149.37 352,148.4 C357.23,147.98 360.27,148.33 363.2,146.6 C365.94,144.99 367.69,141.6 369.3,138.8 C370.87,136.06 371.58,133.63 372.8,130 C374.7,124.36 376.91,115.8 378.9,108 C381.13,99.25 383.06,89.31 385.4,80 C387.75,70.64 391.18,58.99 393,52 C394.09,47.83 394.5,45.24 395.5,42 C396.48,38.84 397.52,35.38 398.9,32.8 C400.03,30.67 401.06,28.71 402.8,27.4 C404.64,26.02 407.25,25.74 409.8,24.9 C412.8,23.91 416.62,23.12 419.7,21.9 C422.56,20.76 425.53,19.13 427.7,17.9 C429.26,17.01 430.25,16.06 431.6,15.4 C432.89,14.77 433.91,14.37 435.6,14 C438.33,13.41 442.93,13.33 446.6,13" fill="none" stroke="#ffa200" stroke-width="2.4" stroke-linecap="round" stroke-linejoin="round" />
<path d="M292.3,148.4 C311.53,148.37 338.48,149.23 350,148.3 C354.97,147.9 357.93,148.31 360.6,146.6 C363.09,145 364.35,141.56 365.8,138.8 C367.26,136.03 368.08,133.63 369.3,130 C371.2,124.36 373.41,115.8 375.4,108 C377.63,99.25 379.43,89.29 381.9,80 C384.39,70.63 388.48,59.01 390.3,52 C391.38,47.85 391.76,45.43 392.5,42 C393.29,38.37 393.35,33.61 394.9,30.8 C396.11,28.6 397.76,27.17 399.9,25.9 C402.5,24.36 406.5,23.9 409.8,22.9 C413.1,21.9 416.43,21.13 419.7,19.9 C423.07,18.64 426.79,16.64 429.7,15.4 C431.91,14.45 433.28,13.51 435.6,13 C438.65,12.33 442.93,12.67 446.6,12.5" fill="none" stroke="#e2f000" stroke-width="2.4" stroke-linecap="round" stroke-linejoin="round" />
<path d="M292.3,148.3 C309.87,148.2 334.24,148.76 345,148 C349.78,147.66 352.81,148.2 355.3,146.6 C357.52,145.17 358.43,142.19 359.7,139.6 C361.11,136.72 362.03,133.9 363.2,130 C364.93,124.21 366.66,115.79 368.4,108 C370.36,99.24 372.11,89.31 374.3,80 C376.5,70.64 379.85,58.99 381.6,52 C382.64,47.83 383.13,45.42 384,42 C384.92,38.37 385.56,33.66 387,30.8 C388.06,28.7 389.12,27.28 390.9,25.9 C393.14,24.17 396.61,23.27 399.9,21.9 C403.8,20.28 408.13,18.12 412.8,16.9 C417.98,15.55 424.05,15.02 429.7,14.5 C435.32,13.99 440.97,14.03 446.6,13.8" fill="none" stroke="#00f060" stroke-width="2.4" stroke-linecap="round" stroke-linejoin="round" />
<path d="M292.3,148 C306.53,147.9 325.81,148.62 335,147.7 C339.44,147.26 342.4,147.44 344.8,145.8 C346.98,144.3 348.05,141.35 349.2,138.8 C350.41,136.11 350.91,133.62 351.8,130 C353.2,124.34 354.6,115.77 356.2,108 C358,99.22 360.07,89.33 362.1,80 C364.13,70.66 366.32,59.64 368.4,52 C369.88,46.59 370.71,42.2 372.8,38.3 C374.65,34.85 376.78,31.79 379.8,29.5 C383.09,27 387.93,25.96 392.1,24.3 C396.33,22.62 400.5,20.93 405,19.5 C409.78,17.98 414.23,16.42 420,15.5 C427.55,14.29 437.73,14.5 446.6,14" fill="none" stroke="#00c8ff" stroke-width="2.4" stroke-linecap="round" stroke-linejoin="round" />
<path d="M292.3,147.8 C303.2,147.63 317.46,148.32 325,147.3 C329.09,146.75 331.8,146.34 334.3,144.9 C336.5,143.63 338.11,141.81 339.5,139.6 C341.13,137.01 341.99,133.91 343,130 C344.5,124.22 345.03,115.75 346.5,108 C348.17,99.2 350.65,89.34 352.7,80 C354.75,70.67 356.51,59.61 358.8,52 C360.44,46.55 361.85,42.22 364.1,38.3 C366.07,34.87 368.12,31.92 371.1,29.5 C374.38,26.84 379.22,25.13 383.3,23.4 C387.19,21.75 391.23,20.49 395,19.3 C398.45,18.21 401.8,17.2 405,16.5 C407.88,15.87 410.53,15.63 413.3,15.2" fill="none" stroke="#0070ff" stroke-width="2.4" stroke-linecap="round" stroke-linejoin="round" />
<path d="M292.3,147.3 C299.87,147.03 309.65,147.52 315,146.5 C318.06,145.91 319.75,145.2 322,144 C324.43,142.7 327.13,141.03 329,138.8 C330.99,136.43 332.17,133.7 333.4,130 C335.25,124.42 335.85,115.77 337.3,108 C338.94,99.22 340.97,89.33 342.8,80 C344.63,70.67 345.9,59.57 348.3,52 C350.04,46.51 351.92,42.33 354.4,38.3 C356.66,34.62 359.04,31.2 362.3,28.6 C365.71,25.87 370.62,24.15 374.6,22.5 C378.16,21.03 381.18,20.02 385,19 C389.51,17.8 395.13,16.67 400,16 C404.55,15.38 408.87,15.33 413.3,15" fill="none" stroke="#0030ff" stroke-width="2.4" stroke-linecap="round" stroke-linejoin="round" />
<path d="M292.3,142.3 C296.37,141.13 300.96,140.76 304.5,138.8 C307.92,136.91 310.74,134.63 313.3,130.9 C316.98,125.53 319.72,116.13 322,108 C324.46,99.24 325.3,89.32 327.2,80 C329.1,70.65 330.9,59.58 333.4,52 C335.21,46.52 336.94,42.4 339.5,38.3 C341.95,34.38 344.82,30.7 348.3,27.8 C351.84,24.85 356.21,22.59 360.6,20.8 C365.1,18.96 370.61,17.88 375,17 C378.61,16.27 381.59,15.96 385,15.6 C388.55,15.22 392.27,15.07 395.9,14.8" fill="none" stroke="#5a00ff" stroke-width="2.4" stroke-linecap="round" stroke-linejoin="round" />
<path d="M292.3,126.3 C294.87,124.53 297.74,123.51 300,121 C302.85,117.84 305.18,113.34 307.1,108 C309.76,100.6 310.6,89.32 312.5,80 C314.4,70.66 316.01,59.58 318.5,52 C320.31,46.51 322.18,42.78 324.7,38.3 C327.38,33.54 330.1,27.76 334.3,24.3 C338.52,20.82 344.33,19 350,17.5 C356.15,15.87 362.89,15.79 370,15.3 C378.07,14.75 387.27,14.83 395.9,14.6" fill="none" stroke="#9000ff" stroke-width="2.4" stroke-linecap="round" stroke-linejoin="round" />
<path d="M292.3,108 C293.87,106.67 295.57,105.82 297,104 C298.92,101.55 300.49,97.67 302,94 C303.74,89.78 305.04,85.51 306.6,80 C308.78,72.31 310.51,59.55 313.3,52 C315.34,46.48 317.47,42.69 320.3,38.3 C323.26,33.7 326.58,28.42 330.8,25.1 C334.87,21.9 339.94,20.05 345,18.5 C350.31,16.88 356.4,16.35 362,15.8 C367.4,15.27 372.67,15.4 378,15.2" fill="none" stroke="#c800ff" stroke-width="2.4" stroke-linecap="round" stroke-linejoin="round" />
<path d="M292.3,78 C293.53,77.33 294.86,77.04 296,76 C297.49,74.64 298.68,72.64 300,70 C302.14,65.7 303.94,57.52 306.3,52 C308.42,47.04 310.67,42.65 313.3,38.3 C315.91,33.99 318.57,29.13 322,26 C325.08,23.19 328.73,21.39 332.5,19.9 C336.38,18.36 340.49,17.71 345,17 C350.2,16.19 356.42,15.92 362,15.6 C367.41,15.29 372.67,15.27 378,15.1" fill="none" stroke="#ff00d8" stroke-width="2.4" stroke-linecap="round" stroke-linejoin="round" />
<path d="M292.3,38.3 C294.2,37.53 296.08,36.96 298,36 C300.14,34.94 302.19,33.49 304.5,32.1 C307.14,30.51 310.09,28.59 313,27 C315.93,25.39 318.84,23.81 322,22.5 C325.32,21.13 328.81,19.9 332.5,19 C336.45,18.03 340.63,17.52 345,17 C349.76,16.43 354.77,16.13 360,15.8 C365.72,15.44 372,15.27 378,15" fill="none" stroke="#ff0070" stroke-width="2.4" stroke-linecap="round" stroke-linejoin="round" />
<path d="M292.3,19 C299.87,18.6 307.29,18.22 315,17.8 C323.01,17.36 330.41,16.82 339.5,16.4 C350.89,15.87 365.17,15.47 378,15" fill="none" stroke="#ff0000" stroke-width="2.5" stroke-linecap="round" stroke-linejoin="round" />
</g>
<g clip-path="url(#cp3)">
<path d="M54.5,361 C55,360.83 55.48,360.83 56,360.5 C56.76,360.02 57.68,359.1 58.4,358 C59.38,356.5 60.21,354.29 60.9,352 C61.76,349.13 62.28,345.92 62.8,342 C63.53,336.49 63.84,329.11 64.3,322 C64.82,313.9 65.33,303.62 65.7,296 C65.99,290.02 66.13,285.33 66.4,280 C66.67,274.67 67.03,269.16 67.3,264 C67.56,259.18 67.75,254.67 68,250 C68.25,245.33 68.17,239.27 68.8,236 C69.15,234.16 69.44,232.68 70.2,231.8 C70.77,231.14 71.44,230.94 72.4,230.7 C73.98,230.3 76.8,230.57 79,230.5" fill="none" stroke="#1565c8" stroke-width="2.4" stroke-linecap="round" stroke-linejoin="round" />
<path d="M54.5,361 C55.33,360.83 56.18,360.89 57,360.5 C58.02,360.01 59.19,359.15 60,358 C61.04,356.52 61.6,354.29 62.2,352 C62.95,349.12 63.29,345.91 63.8,342 C64.52,336.49 65.2,329.11 65.8,322 C66.48,313.91 66.98,303.62 67.6,296 C68.09,290.02 68.73,285.34 69.1,280 C69.47,274.67 69.6,269.16 69.8,264 C69.99,259.18 70.1,254.67 70.3,250 C70.5,245.33 70.35,239.16 71,236 C71.35,234.3 71.69,233.09 72.4,232.2 C72.97,231.49 73.62,231.1 74.6,230.8 C76.17,230.32 79,230.67 81.2,230.6" fill="none" stroke="#1e9bd2" stroke-width="2.4" stroke-linecap="round" stroke-linejoin="round" />
<path d="M54.5,361 C55.67,360.83 56.94,360.97 58,360.5 C59.12,360 60.18,359.15 61,358 C62.06,356.52 62.53,354.27 63.3,352 C64.29,349.11 65.48,345.95 66.3,342 C67.44,336.52 67.99,329.11 68.7,322 C69.51,313.91 70.09,303.62 70.8,296 C71.36,290.02 72.03,285.34 72.5,280 C72.97,274.67 73.31,269.16 73.6,264 C73.87,259.18 73.92,254.65 74.2,250 C74.48,245.38 74.31,239.24 75.3,236.2 C75.84,234.52 76.57,233.46 77.5,232.6 C78.32,231.84 79.1,231.44 80.4,231.1 C82.63,230.52 86.8,230.9 90,230.8" fill="none" stroke="#15a598" stroke-width="2.4" stroke-linecap="round" stroke-linejoin="round" />
<path d="M54.5,361 C56,360.87 57.62,361.09 59,360.6 C60.39,360.1 61.63,359.19 62.8,358 C64.25,356.51 65.44,354.31 66.7,352 C68.26,349.14 69.93,345.99 71.2,342 C72.93,336.56 74.04,329.13 75.1,322 C76.3,313.93 77.09,303.62 77.8,296 C78.35,290.03 78.65,285.33 79.1,280 C79.55,274.67 80.02,269.15 80.5,264 C80.95,259.18 81.41,254.58 81.9,250 C82.38,245.58 82.44,239.95 83.4,237 C83.95,235.32 84.52,234.22 85.5,233.3 C86.46,232.4 87.45,231.92 89.2,231.5 C92.82,230.63 100.87,231.3 106.7,231.2" fill="none" stroke="#17a04a" stroke-width="2.4" stroke-linecap="round" stroke-linejoin="round" />
<path d="M54.5,361 C57,360.87 59.61,361.11 62,360.6 C64.34,360.1 66.79,359.39 68.7,358 C70.68,356.56 71.93,354.31 73.6,352 C75.67,349.14 78.15,346.06 80,342 C82.46,336.62 84.41,329.17 85.9,322 C87.57,313.96 88.15,303.62 89.1,296 C89.84,290.02 90.42,285.33 91.1,280 C91.78,274.67 92.66,269.16 93.2,264 C93.7,259.18 93.8,254.19 94.3,250 C94.71,246.55 94.97,243.41 95.8,240.6 C96.52,238.15 97.47,235.41 98.7,234 C99.54,233.03 100.49,232.62 101.6,232.2 C102.87,231.73 104.53,231.73 106,231.5" fill="none" stroke="#35aa38" stroke-width="2.4" stroke-linecap="round" stroke-linejoin="round" />
<path d="M54.5,361 C58.33,360.87 62.37,361.15 66,360.6 C69.38,360.09 72.82,359.49 75.6,358 C78.25,356.57 80.26,354.41 82.4,352 C84.87,349.21 87.24,346.07 89.3,342 C92.02,336.62 94.68,327.87 96.2,322 C97.35,317.54 97.65,314.52 98.3,310 C99.14,304.19 99.87,296.67 100.6,290 C101.33,283.34 101.9,276.18 102.7,270 C103.39,264.63 104.1,259.64 105,255 C105.79,250.92 106.4,247.19 107.7,243.6 C108.96,240.13 110.21,235.79 112.6,233.8 C114.67,232.08 117.21,231.99 120.5,231.5 C125.69,230.73 134.17,231.37 141,231.3" fill="none" stroke="#8ec31f" stroke-width="2.4" stroke-linecap="round" stroke-linejoin="round" />
<path d="M54.5,361 C59.67,360.87 65.15,361.17 70,360.6 C74.39,360.09 79.04,359.67 82.4,358 C85.26,356.58 87.1,354.4 89.3,352 C91.86,349.21 94.62,346.13 96.6,342 C99.16,336.66 100.8,327.85 102,322 C102.92,317.52 103.1,314.51 103.7,310 C104.48,304.18 105.38,296.67 106.2,290 C107.02,283.33 107.74,276.18 108.6,270 C109.35,264.63 109.91,259.62 111,255 C111.97,250.9 113.1,247.08 114.6,243.6 C115.98,240.4 117.14,236.77 119.5,234.8 C121.76,232.91 124.65,232.45 128.3,231.8 C133.87,230.81 142.77,231.47 150,231.3" fill="none" stroke="#c6d50a" stroke-width="2.4" stroke-linecap="round" stroke-linejoin="round" />
<path d="M54.5,361 C62.33,360.87 71.3,361.31 78,360.6 C83.09,360.06 87.61,359.67 91.3,358 C94.44,356.58 97.08,353.89 99.1,352 C100.58,350.61 101.36,349.58 102.6,348 C104.23,345.92 106.44,343.5 107.9,340.5 C109.7,336.82 110.82,331.96 111.9,327.2 C113.11,321.87 113.78,315.96 114.6,310 C115.49,303.59 116.2,296.67 117,290 C117.8,283.33 118.34,275.92 119.4,270 C120.26,265.17 121.2,261.33 122.5,257 C123.85,252.53 125.44,247.5 127.4,243.6 C129.09,240.25 130.64,236.77 133.2,234.8 C135.61,232.94 138.11,232.5 142.1,231.8 C149.69,230.46 164.7,231.27 176,231" fill="none" stroke="#f5f000" stroke-width="2.4" stroke-linecap="round" stroke-linejoin="round" />
<path d="M54.5,361.2 C68,361.07 86.04,362.45 95,360.8 C99.66,359.94 102.21,358.7 105.3,357 C108.24,355.39 111.05,353.58 113.2,351 C115.54,348.19 117.08,344.29 118.5,340.5 C120.04,336.41 120.94,331.94 121.9,327.2 C122.98,321.86 123.78,315.96 124.5,310 C125.27,303.6 125.52,296.66 126.3,290 C127.08,283.32 127.75,276.66 129.2,270 C130.69,263.16 132.67,254.57 135.2,249.5 C136.92,246.05 138.88,243.78 141.1,241.6 C143.15,239.59 145.18,237.96 147.9,236.7 C151.18,235.19 155.45,234.65 159.7,233.8 C164.61,232.82 170.37,232.13 175.7,231.3" fill="none" stroke="#ffbe00" stroke-width="2.4" stroke-linecap="round" stroke-linejoin="round" />
<path d="M54.5,361.3 C71.33,361.2 94.45,363.17 105,361 C110.11,359.95 112.83,358.25 115.9,356.4 C118.51,354.83 120.69,353.36 122.5,351 C124.6,348.26 125.91,344.36 127.2,340.5 C128.67,336.1 129.53,330.89 130.5,325.9 C131.51,320.73 132.23,314.68 133.1,310 C133.8,306.27 134.5,303.33 135.2,300 C135.9,296.67 136.64,293.62 137.3,290 C138.08,285.73 138.74,280.27 139.5,276 C140.15,272.38 140.82,269.24 141.5,266 C142.15,262.92 142.77,259.93 143.5,257 C144.21,254.17 144.76,250.84 145.8,248.7 C146.56,247.14 147.36,245.96 148.5,245 C149.65,244.02 151.07,243.53 152.7,242.9 C154.77,242.09 157.49,241.3 160,240.8 C162.58,240.29 165.43,240.34 168,239.9 C170.42,239.49 172.9,239.05 175,238.3 C176.85,237.64 178.17,236.7 180,235.8 C182.2,234.72 184.86,233.12 187.3,232.3 C189.56,231.54 191.9,231.18 194.1,230.9 C196.13,230.64 198.03,230.7 200,230.6" fill="none" stroke="#ff9800" stroke-width="2.4" stroke-linecap="round" stroke-linejoin="round" />
<path d="M54.5,361.4 C72.33,361.3 97.13,362.85 108,361.1 C112.94,360.31 115.62,359.34 118.5,357.7 C120.95,356.3 122.83,354.7 124.5,352.4 C126.51,349.64 127.82,345.68 129.1,341.8 C130.56,337.38 131.42,332.28 132.5,327.2 C133.66,321.71 134.75,315.54 135.8,310 C136.78,304.83 137.73,299.49 138.6,295 C139.31,291.33 139.86,288.24 140.6,285 C141.3,281.91 142.19,279.16 142.9,276 C143.67,272.53 144.26,268.37 145,265 C145.64,262.11 146.22,259.68 147,257 C147.81,254.24 148.61,250.62 149.8,248.7 C150.59,247.43 151.51,246.74 152.5,246 C153.45,245.29 154.35,244.82 155.6,244.3 C157.32,243.58 159.89,242.89 162,242.4 C164.02,241.93 165.93,241.78 168,241.4 C170.25,240.99 172.37,240.71 175,240 C178.55,239.04 183.71,237.32 187.3,235.8 C190.25,234.55 192.62,232.58 195.1,231.8 C197.15,231.16 199.03,231.27 201,231" fill="none" stroke="#ff6a00" stroke-width="2.4" stroke-linecap="round" stroke-linejoin="round" />
<path d="M54.5,361.5 C73.67,361.43 104.09,362.02 112,361.3 C114.08,361.11 114.4,360.9 115.9,360.6 C117.96,360.19 121.14,360.28 123.2,359 C125.39,357.64 127.04,355.08 128.5,352.4 C130.28,349.14 131.32,344.7 132.5,340.5 C133.79,335.91 134.72,330.88 135.8,325.9 C136.92,320.72 138.08,314.81 139.1,310 C139.95,305.99 140.69,302.82 141.5,299 C142.38,294.85 143.26,290.04 144.2,286 C145.03,282.44 146,279.34 146.8,276 C147.6,272.67 148.25,269.09 149,266 C149.65,263.31 150.2,260.92 151,258.5 C151.78,256.15 152.54,253.71 153.7,251.7 C154.78,249.84 155.98,248.03 157.6,246.8 C159.24,245.55 161.64,244.87 163.5,244.3 C165.08,243.81 166.33,243.71 168,243.4 C170.07,243.01 172.94,242.61 175,242.2 C176.64,241.87 177.65,241.62 179.4,241.2 C182.02,240.57 186.56,239.79 189.2,238.7 C191.18,237.88 192.49,236.85 194.1,235.8 C195.76,234.72 197.27,233.01 199,232.3 C200.59,231.65 202.28,231.67 204,231.5 C205.81,231.32 207.73,231.37 209.6,231.3" fill="none" stroke="#ff1000" stroke-width="2.6" stroke-linecap="round" stroke-linejoin="round" />
</g>
<g clip-path="url(#cp2)">
<path d="M520.5,133 C523.47,133.33 525.12,133.52 529.4,134 C540.53,135.24 569.22,138.36 589.5,140.6 C610.3,142.89 637.51,145.74 652.7,147.6 C661.28,148.65 668.15,149.62 672.8,150.3 C675.28,150.66 676.6,150.9 678.5,151.2" fill="none" stroke="#1414ff" stroke-width="2.3" stroke-dasharray="4,3.5"/>
</g>
<circle cx="528.8" cy="20.1" r="2.85" fill="none" stroke="#ff1414" stroke-width="1.4"/>
<circle cx="540.2" cy="25" r="2.85" fill="none" stroke="#ff1414" stroke-width="1.4"/>
<circle cx="562.7" cy="37.4" r="2.85" fill="none" stroke="#ff1414" stroke-width="1.4"/>
<circle cx="589.6" cy="54.5" r="2.85" fill="none" stroke="#ff1414" stroke-width="1.4"/>
<circle cx="611" cy="67.8" r="2.85" fill="none" stroke="#ff1414" stroke-width="1.4"/>
<circle cx="624.5" cy="82.1" r="2.85" fill="none" stroke="#ff1414" stroke-width="1.4"/>
<circle cx="651.2" cy="101.2" r="2.85" fill="none" stroke="#ff1414" stroke-width="1.4"/>
<circle cx="661.8" cy="122.5" r="2.85" fill="none" stroke="#ff1414" stroke-width="1.4"/>
<circle cx="666.2" cy="129.4" r="2.85" fill="none" stroke="#ff1414" stroke-width="1.4"/>
<circle cx="671.6" cy="137.2" r="2.85" fill="none" stroke="#ff1414" stroke-width="1.4"/>
<circle cx="529.4" cy="133.9" r="2.85" fill="none" stroke="#1414ff" stroke-width="1.5"/>
<circle cx="540.2" cy="135" r="2.85" fill="none" stroke="#1414ff" stroke-width="1.5"/>
<circle cx="564" cy="137.5" r="2.85" fill="none" stroke="#1414ff" stroke-width="1.5"/>
<circle cx="589.5" cy="140.4" r="2.85" fill="none" stroke="#1414ff" stroke-width="1.5"/>
<circle cx="610" cy="142.6" r="2.85" fill="none" stroke="#1414ff" stroke-width="1.5"/>
<circle cx="633.6" cy="145.5" r="2.85" fill="none" stroke="#1414ff" stroke-width="1.5"/>
<circle cx="652.7" cy="147.5" r="2.85" fill="none" stroke="#1414ff" stroke-width="1.5"/>
<circle cx="665.7" cy="149.2" r="2.85" fill="none" stroke="#1414ff" stroke-width="1.5"/>
<circle cx="672.8" cy="150.2" r="2.85" fill="none" stroke="#1414ff" stroke-width="1.5"/>
<g clip-path="url(#cp4)">
<path d="M286.80,365.00 L287.28,365.00 L287.76,365.00 L288.24,365.00 L288.72,365.00 L289.20,364.99 L289.68,364.99 L290.16,364.99 L290.64,364.98 L291.12,364.98 L291.60,364.98 L292.08,364.97 L292.56,364.96 L293.04,364.96 L293.52,364.95 L294.00,364.94 L294.48,364.94 L294.96,364.93 L295.44,364.92 L295.92,364.91 L296.40,364.90 L296.88,364.89 L297.36,364.88 L297.84,364.87 L298.32,364.85 L298.80,364.84 L299.28,364.83 L299.76,364.82 L300.24,364.80 L300.72,364.79 L301.20,364.77 L301.68,364.76 L302.16,364.74 L302.64,364.72 L303.12,364.71 L303.60,364.69 L304.08,364.67 L304.56,364.65 L305.04,364.63 L305.52,364.61 L306.00,364.59 L306.48,364.57 L306.96,364.55 L307.44,364.52 L307.92,364.50 L308.40,364.48 L308.88,364.45 L309.36,364.43 L309.84,364.40 L310.32,364.38 L310.80,364.35 L311.28,364.33 L311.76,364.30 L312.24,364.27 L312.72,364.24 L313.20,364.21 L313.68,364.18 L314.16,364.15 L314.64,364.12 L315.12,364.09 L315.60,364.06 L316.08,364.02 L316.56,363.99 L317.04,363.95 L317.52,363.92 L318.00,363.88 L318.48,363.85 L318.96,363.81 L319.44,363.77 L319.92,363.73 L320.40,363.69 L320.88,363.66 L321.36,363.61 L321.84,363.57 L322.32,363.53 L322.80,363.49 L323.28,363.45 L323.76,363.40 L324.24,363.36 L324.72,363.31 L325.20,363.27 L325.68,363.22 L326.16,363.17 L326.64,363.12 L327.12,363.07 L327.60,363.02 L328.08,362.97 L328.56,362.92 L329.04,362.87 L329.52,362.82 L330.00,362.76 L330.48,362.71 L330.96,362.65 L331.44,362.59 L331.92,362.54 L332.40,362.48 L332.88,362.42 L333.36,362.36 L333.84,362.30 L334.32,362.24 L334.80,362.17 L335.28,362.11 L335.76,362.04 L336.24,361.98 L336.72,361.91 L337.20,361.84 L337.68,361.78 L338.16,361.71 L338.64,361.64 L339.12,361.56 L339.60,361.49 L340.08,361.42 L340.56,361.34 L341.04,361.27 L341.52,361.19 L342.00,361.11 L342.48,361.03 L342.96,360.95 L343.44,360.87 L343.92,360.79 L344.40,360.70 L344.88,360.62 L345.36,360.53 L345.84,360.44 L346.32,360.36 L346.80,360.27 L347.28,360.17 L347.76,360.08 L348.24,359.99 L348.72,359.89 L349.20,359.80 L349.68,359.70 L350.16,359.60 L350.64,359.50 L351.12,359.39 L351.60,359.29 L352.08,359.18 L352.56,359.08 L353.04,358.97 L353.52,358.86 L354.00,358.75 L354.48,358.63 L354.96,358.52 L355.44,358.40 L355.92,358.28 L356.40,358.16 L356.88,358.04 L357.36,357.92 L357.84,357.79 L358.32,357.66 L358.80,357.53 L359.28,357.40 L359.76,357.27 L360.24,357.14 L360.72,357.00 L361.20,356.86 L361.68,356.72 L362.16,356.57 L362.64,356.43 L363.12,356.28 L363.60,356.13 L364.08,355.98 L364.56,355.82 L365.04,355.67 L365.52,355.51 L366.00,355.34 L366.48,355.18 L366.96,355.01 L367.44,354.84 L367.92,354.67 L368.40,354.49 L368.88,354.32 L369.36,354.13 L369.84,353.95 L370.32,353.76 L370.80,353.57 L371.28,353.38 L371.76,353.19 L372.24,352.99 L372.72,352.78 L373.20,352.58 L373.68,352.37 L374.16,352.16 L374.64,351.94 L375.12,351.72 L375.60,351.50 L376.08,351.27 L376.56,351.04 L377.04,350.80 L377.52,350.56 L378.00,350.32 L378.48,350.07 L378.96,349.82 L379.44,349.56 L379.92,349.30 L380.40,349.04 L380.88,348.77 L381.36,348.49 L381.84,348.21 L382.32,347.92 L382.80,347.63 L383.28,347.34 L383.76,347.04 L384.24,346.73 L384.72,346.42 L385.20,346.10 L385.68,345.77 L386.16,345.44 L386.64,345.11 L387.12,344.76 L387.60,344.41 L388.08,344.05 L388.56,343.69 L389.04,343.32 L389.52,342.94 L390.00,342.55 L390.48,342.16 L390.96,341.75 L391.44,341.34 L391.92,340.92 L392.40,340.50 L392.88,340.06 L393.36,339.61 L393.84,339.16 L394.32,338.69 L394.80,338.22 L395.28,337.73 L395.76,337.24 L396.24,336.73 L396.72,336.21 L397.20,335.68 L397.68,335.14 L398.16,334.59 L398.64,334.02 L399.12,333.44 L399.60,332.85 L400.08,332.24 L400.56,331.62 L401.04,330.99 L401.52,330.34 L402.00,329.68 L402.48,328.99 L402.96,328.30 L403.44,327.58 L403.92,326.85 L404.40,326.10 L404.88,325.34 L405.36,324.55 L405.84,323.74 L406.32,322.92 L406.80,322.07 L407.28,321.20 L407.76,320.31 L408.24,319.39 L408.72,318.45 L409.20,317.49 L409.68,316.50 L410.16,315.49 L410.64,314.45 L411.12,313.38 L411.60,312.28 L412.08,311.16 L412.56,310.00 L413.04,308.82 L413.52,307.60 L414.00,306.34 L414.48,305.06 L414.96,303.73 L415.44,302.38 L415.92,300.98 L416.40,299.55 L416.88,298.07 L417.36,296.56 L417.84,295.00 L418.32,293.40 L418.80,291.76 L419.28,290.07 L419.76,288.34 L420.24,286.56 L420.72,284.73 L421.20,282.85 L421.68,280.91 L422.16,278.93 L422.64,276.89 L423.12,274.80 L423.60,272.65 L424.08,270.44 L424.56,268.18 L425.04,265.86 L425.52,263.47 L426.00,261.03 L426.48,258.52 L426.96,255.95 L427.44,253.32 L427.92,250.62 L428.40,247.86 L428.88,245.02 L429.36,242.13 L429.84,239.16 L430.32,236.13 L430.80,233.02 L430.80,233.02 L430.85,233.37 L430.91,233.72 L430.96,234.06 L431.01,234.41 L431.07,234.75 L431.12,235.10 L431.17,235.44 L431.23,235.78 L431.28,236.13 L431.33,236.47 L431.39,236.81 L431.44,237.14 L431.49,237.48 L431.55,237.82 L431.60,238.16 L431.65,238.49 L431.71,238.83 L431.76,239.16 L431.81,239.49 L431.87,239.82 L431.92,240.16 L431.97,240.49 L432.03,240.82 L432.08,241.14 L432.13,241.47 L432.19,241.80 L432.24,242.13 L432.29,242.45 L432.35,242.78 L432.40,243.10 L432.45,243.42 L432.51,243.74 L432.56,244.07 L432.61,244.39 L432.67,244.71 L432.72,245.02 L432.77,245.34 L432.83,245.66 L432.88,245.98 L432.93,246.29 L432.99,246.61 L433.04,246.92 L433.09,247.23 L433.15,247.54 L433.20,247.86 L433.25,248.17 L433.31,248.48 L433.36,248.78 L433.41,249.09 L433.47,249.40 L433.52,249.71 L433.57,250.01 L433.63,250.32 L433.68,250.62 L433.73,250.92 L433.79,251.23 L433.84,251.53 L433.89,251.83 L433.95,252.13 L434.00,252.43 L434.05,252.72 L434.11,253.02 L434.16,253.32 L434.21,253.61 L434.27,253.91 L434.32,254.20 L434.37,254.50 L434.43,254.79 L434.48,255.08 L434.53,255.37 L434.59,255.66 L434.64,255.95 L434.69,256.24 L434.75,256.53 L434.80,256.82 L434.85,257.10 L434.91,257.39 L434.96,257.67 L435.01,257.96 L435.07,258.24 L435.12,258.52 L435.17,258.80 L435.23,259.09 L435.28,259.37 L435.33,259.64 L435.39,259.92 L435.44,260.20 L435.49,260.48 L435.55,260.75 L435.60,261.03 L435.65,261.30 L435.71,261.58 L435.76,261.85 L435.81,262.12 L435.87,262.40 L435.92,262.67 L435.97,262.94 L436.03,263.21 L436.08,263.47 L436.13,263.74 L436.19,264.01 L436.24,264.28 L436.29,264.54 L436.35,264.81 L436.40,265.07 L436.45,265.33 L436.51,265.60 L436.56,265.86 L436.61,266.12 L436.67,266.38 L436.72,266.64 L436.77,266.90 L436.83,267.15 L436.88,267.41 L436.93,267.67 L436.99,267.92 L437.04,268.18 L437.09,268.43 L437.15,268.69 L437.20,268.94 L437.25,269.19 L437.31,269.44 L437.36,269.70 L437.41,269.95 L437.47,270.20 L437.52,270.44 L437.57,270.69 L437.63,270.94 L437.68,271.19 L437.73,271.43 L437.79,271.68 L437.84,271.92 L437.89,272.16 L437.95,272.41 L438.00,272.65 L438.05,272.89 L438.11,273.13 L438.16,273.37 L438.21,273.61 L438.27,273.85 L438.32,274.09 L438.37,274.33 L438.43,274.56 L438.48,274.80 L438.53,275.03 L438.59,275.27 L438.64,275.50 L438.69,275.74 L438.75,275.97 L438.80,276.20 L438.85,276.43 L438.91,276.66 L438.96,276.89 L439.01,277.12 L439.07,277.35 L439.12,277.58 L439.17,277.80 L439.23,278.03 L439.28,278.26 L439.33,278.48 L439.39,278.71 L439.44,278.93 L439.49,279.15 L439.55,279.37 L439.60,279.60 L439.65,279.82 L439.71,280.04 L439.76,280.26 L439.81,280.48 L439.87,280.70 L439.92,280.91 L439.97,281.13 L440.03,281.35 L440.08,281.56 L440.13,281.78 L440.19,281.99 L440.24,282.21 L440.29,282.42 L440.35,282.63 L440.40,282.85 L440.45,283.06 L440.51,283.27 L440.56,283.48 L440.61,283.69 L440.67,283.90 L440.72,284.10 L440.77,284.31 L440.83,284.52 L440.88,284.73 L440.93,284.93 L440.99,285.14 L441.04,285.34 L441.09,285.55 L441.15,285.75 L441.20,285.95 L441.25,286.15 L441.31,286.36 L441.36,286.56 L441.41,286.76 L441.47,286.96 L441.52,287.16 L441.57,287.35 L441.63,287.55 L441.68,287.75 L441.73,287.95 L441.79,288.14 L441.84,288.34 L441.89,288.53 L441.95,288.73 L442.00,288.92 L442.05,289.12 L442.11,289.31 L442.16,289.50 L442.21,289.69 L442.27,289.88 L442.32,290.07 L442.37,290.26 L442.43,290.45 L442.48,290.64 L442.53,290.83 L442.59,291.02 L442.64,291.20 L442.69,291.39 L442.75,291.58 L442.80,291.76 L442.85,291.95 L442.91,292.13 L442.96,292.31 L443.01,292.50 L443.07,292.68 L443.12,292.86 L443.17,293.04 L443.23,293.22 L443.28,293.40 L443.33,293.58 L443.39,293.76 L443.44,293.94 L443.49,294.12 L443.55,294.30 L443.60,294.47 L443.65,294.65 L443.71,294.83 L443.76,295.00 L443.81,295.18 L443.87,295.35 L443.92,295.53 L443.97,295.70 L444.03,295.87 L444.08,296.04 L444.13,296.22 L444.19,296.39 L444.24,296.56 L444.29,296.73 L444.35,296.90 L444.40,297.07 L444.45,297.24 L444.51,297.40 L444.56,297.57 L444.61,297.74 L444.67,297.91 L444.72,298.07 L444.77,298.24 L444.83,298.40 L444.88,298.57 L444.93,298.73 L444.99,298.90 L445.04,299.06 L445.09,299.22 L445.15,299.38 L445.20,299.55 L445.25,299.71 L445.31,299.87 L445.36,300.03 L445.41,300.19 L445.47,300.35 L445.52,300.51 L445.57,300.66 L445.63,300.82 L445.68,300.98 L445.73,301.14 L445.79,301.29 L445.84,301.45 L445.89,301.60 L445.95,301.76 L446.00,301.91 L446.05,302.07 L446.11,302.22 L446.16,302.38 L446.21,302.53 L446.27,302.68 L446.32,302.83 L446.37,302.98 L446.43,303.13 L446.48,303.29 L446.53,303.44 L446.59,303.58 L446.64,303.73 L446.69,303.88 L446.75,304.03 L446.80,304.18" fill="none" stroke="#1a1aff" stroke-width="2" stroke-linejoin="round"/>
<path d="M286.80,365.00 L287.33,365.00 L287.87,365.00 L288.40,365.00 L288.93,365.00 L289.47,364.99 L290.00,364.99 L290.53,364.99 L291.07,364.98 L291.60,364.98 L292.13,364.97 L292.67,364.96 L293.20,364.96 L293.73,364.95 L294.27,364.94 L294.80,364.93 L295.33,364.92 L295.87,364.91 L296.40,364.90 L296.93,364.89 L297.47,364.87 L298.00,364.86 L298.53,364.85 L299.07,364.83 L299.60,364.82 L300.13,364.80 L300.67,364.78 L301.20,364.77 L301.73,364.75 L302.27,364.73 L302.80,364.71 L303.33,364.69 L303.87,364.67 L304.40,364.65 L304.93,364.63 L305.47,364.61 L306.00,364.58 L306.53,364.56 L307.07,364.53 L307.60,364.51 L308.13,364.48 L308.67,364.46 L309.20,364.43 L309.73,364.40 L310.27,364.37 L310.80,364.34 L311.33,364.31 L311.87,364.28 L312.40,364.25 L312.93,364.21 L313.47,364.18 L314.00,364.15 L314.53,364.11 L315.07,364.08 L315.60,364.04 L316.13,364.00 L316.67,363.96 L317.20,363.92 L317.73,363.88 L318.27,363.84 L318.80,363.80 L319.33,363.76 L319.87,363.72 L320.40,363.67 L320.93,363.63 L321.47,363.58 L322.00,363.53 L322.53,363.49 L323.07,363.44 L323.60,363.39 L324.13,363.34 L324.67,363.29 L325.20,363.23 L325.73,363.18 L326.27,363.13 L326.80,363.07 L327.33,363.01 L327.87,362.96 L328.40,362.90 L328.93,362.84 L329.47,362.78 L330.00,362.72 L330.53,362.66 L331.07,362.59 L331.60,362.53 L332.13,362.46 L332.67,362.39 L333.20,362.33 L333.73,362.26 L334.27,362.19 L334.80,362.12 L335.33,362.04 L335.87,361.97 L336.40,361.89 L336.93,361.82 L337.47,361.74 L338.00,361.66 L338.53,361.58 L339.07,361.50 L339.60,361.42 L340.13,361.33 L340.67,361.25 L341.20,361.16 L341.73,361.07 L342.27,360.98 L342.80,360.89 L343.33,360.80 L343.87,360.70 L344.40,360.61 L344.93,360.51 L345.47,360.41 L346.00,360.31 L346.53,360.21 L347.07,360.10 L347.60,360.00 L348.13,359.89 L348.67,359.78 L349.20,359.67 L349.73,359.56 L350.27,359.44 L350.80,359.33 L351.33,359.21 L351.87,359.09 L352.40,358.97 L352.93,358.84 L353.47,358.72 L354.00,358.59 L354.53,358.46 L355.07,358.33 L355.60,358.19 L356.13,358.05 L356.67,357.91 L357.20,357.77 L357.73,357.63 L358.27,357.48 L358.80,357.33 L359.33,357.18 L359.87,357.03 L360.40,356.87 L360.93,356.71 L361.47,356.55 L362.00,356.38 L362.53,356.21 L363.07,356.04 L363.60,355.87 L364.13,355.69 L364.67,355.51 L365.20,355.33 L365.73,355.14 L366.27,354.95 L366.80,354.76 L367.33,354.56 L367.87,354.36 L368.40,354.15 L368.93,353.95 L369.47,353.73 L370.00,353.52 L370.53,353.30 L371.07,353.07 L371.60,352.85 L372.13,352.61 L372.67,352.38 L373.20,352.14 L373.73,351.89 L374.27,351.64 L374.80,351.38 L375.33,351.12 L375.87,350.85 L376.40,350.58 L376.93,350.31 L377.47,350.02 L378.00,349.73 L378.53,349.44 L379.07,349.14 L379.60,348.83 L380.13,348.52 L380.67,348.20 L381.20,347.87 L381.73,347.54 L382.27,347.20 L382.80,346.85 L383.33,346.50 L383.87,346.13 L384.40,345.76 L384.93,345.38 L385.47,344.99 L386.00,344.59 L386.53,344.19 L387.07,343.77 L387.60,343.35 L388.13,342.91 L388.67,342.46 L389.20,342.01 L389.73,341.54 L390.27,341.06 L390.80,340.57 L391.33,340.07 L391.87,339.55 L392.40,339.02 L392.93,338.48 L393.47,337.92 L394.00,337.35 L394.53,336.76 L395.07,336.16 L395.60,335.54 L396.13,334.91 L396.67,334.26 L397.20,333.59 L397.73,332.90 L398.27,332.19 L398.80,331.46 L399.33,330.71 L399.87,329.94 L400.40,329.15 L400.93,328.33 L401.47,327.49 L402.00,326.63 L402.53,325.73 L403.07,324.81 L403.60,323.86 L404.13,322.89 L404.67,321.88 L405.20,320.84 L405.73,319.76 L406.27,318.65 L406.80,317.51 L407.33,316.32 L407.87,315.10 L408.40,313.84 L408.93,312.53 L409.47,311.18 L410.00,309.79 L410.53,308.35 L411.07,306.85 L411.60,305.31 L412.13,303.72 L412.67,302.07 L413.20,300.36 L413.73,298.59 L414.27,296.77 L414.80,294.89 L415.33,292.94 L415.87,290.93 L416.40,288.85 L416.93,286.71 L417.47,284.51 L418.00,282.24 L418.53,279.91 L419.07,277.52 L419.60,275.07 L420.13,272.57 L420.67,270.02 L421.20,267.44 L421.73,264.82 L422.27,262.17 L422.80,259.52 L423.33,256.88 L423.87,254.25 L424.40,251.67 L424.93,249.16 L425.47,246.73 L426.00,244.41 L426.53,242.24 L427.07,240.23 L427.60,238.42 L428.13,236.83 L428.67,235.49 L429.20,234.43 L429.73,233.65 L430.27,233.18 L430.80,233.02 L431.33,233.18 L431.87,233.65 L432.40,234.43 L432.93,235.49 L433.47,236.83 L434.00,238.42 L434.53,240.23 L435.07,242.24 L435.60,244.41 L436.13,246.73 L436.67,249.16 L437.20,251.67 L437.73,254.25 L438.27,256.88 L438.80,259.52 L439.33,262.17 L439.87,264.82 L440.40,267.44 L440.93,270.02 L441.47,272.57 L442.00,275.07 L442.53,277.52 L443.07,279.91 L443.60,282.24 L444.13,284.51 L444.67,286.71 L445.20,288.85 L445.73,290.93 L446.27,292.94 L446.80,294.89" fill="none" stroke="#22e822" stroke-width="2"/>
</g>
<circle cx="286.80" cy="364.70" r="2.85" fill="none" stroke="#ff1a1a" stroke-width="1.4"/>
<circle cx="314.96" cy="363.51" r="2.85" fill="none" stroke="#ff1a1a" stroke-width="1.4"/>
<circle cx="338.80" cy="361.14" r="2.85" fill="none" stroke="#ff1a1a" stroke-width="1.4"/>
<circle cx="362.64" cy="355.19" r="2.85" fill="none" stroke="#ff1a1a" stroke-width="1.4"/>
<circle cx="386.96" cy="343.90" r="2.85" fill="none" stroke="#ff1a1a" stroke-width="1.4"/>
<circle cx="407.12" cy="323.98" r="2.85" fill="none" stroke="#ff1a1a" stroke-width="1.4"/>
<circle cx="415.20" cy="305.85" r="2.85" fill="none" stroke="#ff1a1a" stroke-width="1.4"/>
<circle cx="418.96" cy="295.74" r="2.85" fill="none" stroke="#ff1a1a" stroke-width="1.4"/>
<circle cx="422.80" cy="278.20" r="2.85" fill="none" stroke="#ff1a1a" stroke-width="1.4"/>
<circle cx="426.74" cy="262.15" r="2.85" fill="none" stroke="#ff1a1a" stroke-width="1.4"/>
<circle cx="429.20" cy="244.02" r="2.85" fill="none" stroke="#ff1a1a" stroke-width="1.4"/>
<circle cx="430.32" cy="237.78" r="2.85" fill="none" stroke="#ff1a1a" stroke-width="1.4"/>
<circle cx="430.80" cy="233.02" r="2.85" fill="none" stroke="#ff1a1a" stroke-width="1.4"/>
<circle cx="431.76" cy="241.35" r="2.85" fill="none" stroke="#ff1a1a" stroke-width="1.4"/>
<circle cx="432.72" cy="244.32" r="2.85" fill="none" stroke="#ff1a1a" stroke-width="1.4"/>
<circle cx="434.00" cy="250.56" r="2.85" fill="none" stroke="#ff1a1a" stroke-width="1.4"/>
<circle cx="435.60" cy="260.67" r="2.85" fill="none" stroke="#ff1a1a" stroke-width="1.4"/>
<circle cx="437.20" cy="266.91" r="2.85" fill="none" stroke="#ff1a1a" stroke-width="1.4"/>
<circle cx="438.80" cy="276.42" r="2.85" fill="none" stroke="#ff1a1a" stroke-width="1.4"/>
<g clip-path="url(#cp5)">
<path d="M519.80,318.04 L520.33,317.30 L520.86,316.57 L521.39,315.83 L521.92,315.09 L522.45,314.35 L522.98,313.60 L523.51,312.86 L524.03,312.12 L524.56,311.37 L525.09,310.63 L525.62,309.88 L526.15,309.14 L526.68,308.39 L527.21,307.64 L527.74,306.89 L528.27,306.15 L528.80,305.40 L529.33,304.65 L529.86,303.90 L530.39,303.15 L530.92,302.40 L531.45,301.65 L531.97,300.90 L532.50,300.15 L533.03,299.40 L533.56,298.66 L534.09,297.91 L534.62,297.16 L535.15,296.41 L535.68,295.66 L536.21,294.92 L536.74,294.17 L537.27,293.42 L537.80,292.68 L538.33,291.93 L538.86,291.19 L539.39,290.45 L539.91,289.71 L540.44,288.97 L540.97,288.23 L541.50,287.49 L542.03,286.75 L542.56,286.02 L543.09,285.29 L543.62,284.55 L544.15,283.82 L544.68,283.10 L545.21,282.37 L545.74,281.65 L546.27,280.92 L546.80,280.20 L547.33,279.48 L547.85,278.77 L548.38,278.06 L548.91,277.35 L549.44,276.64 L549.97,275.93 L550.50,275.23 L551.03,274.53 L551.56,273.83 L552.09,273.14 L552.62,272.45 L553.15,271.76 L553.68,271.08 L554.21,270.40 L554.74,269.73 L555.27,269.05 L555.79,268.39 L556.32,267.72 L556.85,267.06 L557.38,266.40 L557.91,265.75 L558.44,265.11 L558.97,264.46 L559.50,263.82 L560.03,263.19 L560.56,262.56 L561.09,261.94 L561.62,261.32 L562.15,260.71 L562.68,260.10 L563.21,259.50 L563.73,258.90 L564.26,258.31 L564.79,257.72 L565.32,257.14 L565.85,256.57 L566.38,256.00 L566.91,255.44 L567.44,254.89 L567.97,254.34 L568.50,253.80 L569.03,253.26 L569.56,252.73 L570.09,252.21 L570.62,251.70 L571.15,251.19 L571.67,250.69 L572.20,250.20 L572.73,249.71 L573.26,249.23 L573.79,248.76 L574.32,248.30 L574.85,247.85 L575.38,247.40 L575.91,246.96 L576.44,246.53 L576.97,246.11 L577.50,245.70 L578.03,245.30 L578.56,244.90 L579.09,244.51 L579.61,244.13 L580.14,243.76 L580.67,243.40 L581.20,243.05 L581.73,242.71 L582.26,242.38 L582.79,242.05 L583.32,241.74 L583.85,241.43 L584.38,241.14 L584.91,240.85 L585.44,240.58 L585.97,240.31 L586.50,240.05 L587.03,239.81 L587.55,239.57 L588.08,239.35 L588.61,239.13 L589.14,238.92 L589.67,238.73 L590.20,238.54 L590.73,238.37 L591.26,238.20 L591.79,238.05 L592.32,237.90 L592.85,237.77 L593.38,237.65 L593.91,237.54 L594.44,237.43 L594.97,237.34 L595.49,237.26 L596.02,237.19 L596.55,237.13 L597.08,237.09 L597.61,237.05 L598.14,237.02 L598.67,237.01 L599.20,237.00 L599.73,237.01 L600.26,237.02 L600.79,237.05 L601.32,237.09 L601.85,237.13 L602.38,237.19 L602.91,237.26 L603.43,237.34 L603.96,237.43 L604.49,237.54 L605.02,237.65 L605.55,237.77 L606.08,237.90 L606.61,238.05 L607.14,238.20 L607.67,238.37 L608.20,238.54 L608.73,238.73 L609.26,238.92 L609.79,239.13 L610.32,239.35 L610.85,239.57 L611.37,239.81 L611.90,240.05 L612.43,240.31 L612.96,240.58 L613.49,240.85 L614.02,241.14 L614.55,241.43 L615.08,241.74 L615.61,242.05 L616.14,242.38 L616.67,242.71 L617.20,243.05 L617.73,243.40 L618.26,243.76 L618.79,244.13 L619.31,244.51 L619.84,244.90 L620.37,245.30 L620.90,245.70 L621.43,246.11 L621.96,246.53 L622.49,246.96 L623.02,247.40 L623.55,247.85 L624.08,248.30 L624.61,248.76 L625.14,249.23 L625.67,249.71 L626.20,250.20 L626.73,250.69 L627.25,251.19 L627.78,251.70 L628.31,252.21 L628.84,252.73 L629.37,253.26 L629.90,253.80 L630.43,254.34 L630.96,254.89 L631.49,255.44 L632.02,256.00 L632.55,256.57 L633.08,257.14 L633.61,257.72 L634.14,258.31 L634.67,258.90 L635.19,259.50 L635.72,260.10 L636.25,260.71 L636.78,261.32 L637.31,261.94 L637.84,262.56 L638.37,263.19 L638.90,263.82 L639.43,264.46 L639.96,265.11 L640.49,265.75 L641.02,266.40 L641.55,267.06 L642.08,267.72 L642.61,268.39 L643.13,269.05 L643.66,269.73 L644.19,270.40 L644.72,271.08 L645.25,271.76 L645.78,272.45 L646.31,273.14 L646.84,273.83 L647.37,274.53 L647.90,275.23 L648.43,275.93 L648.96,276.64 L649.49,277.35 L650.02,278.06 L650.55,278.77 L651.07,279.48 L651.60,280.20 L652.13,280.92 L652.66,281.65 L653.19,282.37 L653.72,283.10 L654.25,283.82 L654.78,284.55 L655.31,285.29 L655.84,286.02 L656.37,286.75 L656.90,287.49 L657.43,288.23 L657.96,288.97 L658.49,289.71 L659.01,290.45 L659.54,291.19 L660.07,291.93 L660.60,292.68 L661.13,293.42 L661.66,294.17 L662.19,294.92 L662.72,295.66 L663.25,296.41 L663.78,297.16 L664.31,297.91 L664.84,298.66 L665.37,299.40 L665.90,300.15 L666.43,300.90 L666.95,301.65 L667.48,302.40 L668.01,303.15 L668.54,303.90 L669.07,304.65 L669.60,305.40 L670.13,306.15 L670.66,306.89 L671.19,307.64 L671.72,308.39 L672.25,309.14 L672.78,309.88 L673.31,310.63 L673.84,311.37 L674.37,312.12 L674.89,312.86 L675.42,313.60 L675.95,314.35 L676.48,315.09 L677.01,315.83 L677.54,316.57 L678.07,317.30 L678.60,318.04" fill="none" stroke="#22e822" stroke-width="2"/>
<path d="M519.80,354.33 L520.06,354.03 L520.33,353.73 L520.59,353.43 L520.86,353.13 L521.12,352.83 L521.39,352.52 L521.65,352.22 L521.92,351.92 L522.18,351.61 L522.45,351.31 L522.71,351.01 L522.98,350.70 L523.24,350.39 L523.51,350.09 L523.77,349.78 L524.03,349.47 L524.30,349.16 L524.56,348.86 L524.83,348.55 L525.09,348.24 L525.36,347.93 L525.62,347.61 L525.89,347.30 L526.15,346.99 L526.42,346.68 L526.68,346.37 L526.95,346.05 L527.21,345.74 L527.48,345.42 L527.74,345.11 L528.00,344.79 L528.27,344.47 L528.53,344.16 L528.80,343.84 L529.06,343.52 L529.33,343.20 L529.59,342.88 L529.86,342.56 L530.12,342.24 L530.39,341.92 L530.65,341.60 L530.92,341.28 L531.18,340.95 L531.45,340.63 L531.71,340.31 L531.97,339.98 L532.24,339.66 L532.50,339.33 L532.77,339.01 L533.03,338.68 L533.30,338.35 L533.56,338.02 L533.83,337.70 L534.09,337.37 L534.36,337.04 L534.62,336.71 L534.89,336.38 L535.15,336.04 L535.42,335.71 L535.68,335.38 L535.94,335.05 L536.21,334.71 L536.47,334.38 L536.74,334.04 L537.00,333.71 L537.27,333.37 L537.53,333.03 L537.80,332.70 L538.06,332.36 L538.33,332.02 L538.59,331.68 L538.86,331.34 L539.12,331.00 L539.39,330.66 L539.65,330.32 L539.91,329.98 L540.18,329.63 L540.44,329.29 L540.71,328.95 L540.97,328.60 L541.24,328.26 L541.50,327.91 L541.77,327.57 L542.03,327.22 L542.30,326.87 L542.56,326.52 L542.83,326.18 L543.09,325.83 L543.36,325.48 L543.62,325.13 L543.88,324.77 L544.15,324.42 L544.41,324.07 L544.68,323.72 L544.94,323.36 L545.21,323.01 L545.47,322.65 L545.74,322.30 L546.00,321.94 L546.27,321.59 L546.53,321.23 L546.80,320.87 L547.06,320.51 L547.33,320.15 L547.59,319.79 L547.85,319.43 L548.12,319.07 L548.38,318.71 L548.65,318.35 L548.91,317.99 L549.18,317.62 L549.44,317.26 L549.71,316.89 L549.97,316.53 L550.24,316.16 L550.50,315.80 L550.77,315.43 L551.03,315.06 L551.30,314.69 L551.56,314.32 L551.82,313.95 L552.09,313.58 L552.35,313.21 L552.62,312.84 L552.88,312.47 L553.15,312.10 L553.41,311.72 L553.68,311.35 L553.94,310.97 L554.21,310.60 L554.47,310.22 L554.74,309.85 L555.00,309.47 L555.27,309.09 L555.53,308.71 L555.79,308.33 L556.06,307.95 L556.32,307.57 L556.59,307.19 L556.85,306.81 L557.12,306.43 L557.38,306.04 L557.65,305.66 L557.91,305.28 L558.18,304.89 L558.44,304.50 L558.71,304.12 L558.97,303.73 L559.24,303.34 L559.50,302.96 L559.76,302.57 L560.03,302.18 L560.29,301.79 L560.56,301.40 L560.82,301.00 L561.09,300.61 L561.35,300.22 L561.62,299.83 L561.88,299.43 L562.15,299.04 L562.41,298.64 L562.68,298.24 L562.94,297.85 L563.21,297.45 L563.47,297.05 L563.73,296.65 L564.00,296.25 L564.26,295.85 L564.53,295.45 L564.79,295.05 L565.06,294.65 L565.32,294.25 L565.59,293.84 L565.85,293.44 L566.12,293.03 L566.38,292.63 L566.65,292.22 L566.91,291.82 L567.18,291.41 L567.44,291.00 L567.70,290.59 L567.97,290.18 L568.23,289.77 L568.50,289.36 L568.76,288.95 L569.03,288.54 L569.29,288.12 L569.56,287.71 L569.82,287.30 L570.09,286.88 L570.35,286.47 L570.62,286.05 L570.88,285.63 L571.15,285.22 L571.41,284.80 L571.67,284.38 L571.94,283.96 L572.20,283.54 L572.47,283.12 L572.73,282.70 L573.00,282.27 L573.26,281.85 L573.53,281.43 L573.79,281.00 L574.06,280.58 L574.32,280.15 L574.59,279.72 L574.85,279.30 L575.12,278.87 L575.38,278.44 L575.64,278.01 L575.91,277.58 L576.17,277.15 L576.44,276.72 L576.70,276.29 L576.97,275.86 L577.23,275.42 L577.50,274.99 L577.76,274.55 L578.03,274.12 L578.29,273.68 L578.56,273.25 L578.82,272.81 L579.09,272.37 L579.35,271.93 L579.61,271.49 L579.88,271.05 L580.14,270.61 L580.41,270.17 L580.67,269.73 L580.94,269.28 L581.20,268.84 L581.47,268.39 L581.73,267.95 L582.00,267.50 L582.26,267.06 L582.53,266.61 L582.79,266.16 L583.06,265.71 L583.32,265.26 L583.58,264.81 L583.85,264.36 L584.11,263.91 L584.38,263.46 L584.64,263.01 L584.91,262.55 L585.17,262.10 L585.44,261.64 L585.70,261.19 L585.97,260.73 L586.23,260.27 L586.50,259.82 L586.76,259.36 L587.03,258.90 L587.29,258.44 L587.55,257.98 L587.82,257.52 L588.08,257.05 L588.35,256.59 L588.61,256.13 L588.88,255.66 L589.14,255.20 L589.41,254.73 L589.67,254.27 L589.94,253.80 L590.20,253.33 L590.47,252.86 L590.73,252.39 L591.00,251.92 L591.26,251.45 L591.52,250.98 L591.79,250.51 L592.05,250.04 L592.32,249.56 L592.58,249.09 L592.85,248.61 L593.11,248.14 L593.38,247.66 L593.64,247.19 L593.91,246.71 L594.17,246.23 L594.44,245.75 L594.70,245.27 L594.97,244.79 L595.23,244.31 L595.49,243.83 L595.76,243.34 L596.02,242.86 L596.29,242.38 L596.55,241.89 L596.82,241.40 L597.08,240.92 L597.35,240.43 L597.61,239.94 L597.88,239.45 L598.14,238.96 L598.41,238.47 L598.67,237.98 L598.94,237.49 L599.20,237.00 L599.20,237.00 L599.46,237.49 L599.73,237.98 L599.99,238.47 L600.26,238.96 L600.52,239.45 L600.79,239.94 L601.05,240.43 L601.32,240.92 L601.58,241.40 L601.85,241.89 L602.11,242.38 L602.38,242.86 L602.64,243.34 L602.91,243.83 L603.17,244.31 L603.43,244.79 L603.70,245.27 L603.96,245.75 L604.23,246.23 L604.49,246.71 L604.76,247.19 L605.02,247.66 L605.29,248.14 L605.55,248.61 L605.82,249.09 L606.08,249.56 L606.35,250.04 L606.61,250.51 L606.88,250.98 L607.14,251.45 L607.40,251.92 L607.67,252.39 L607.93,252.86 L608.20,253.33 L608.46,253.80 L608.73,254.27 L608.99,254.73 L609.26,255.20 L609.52,255.66 L609.79,256.13 L610.05,256.59 L610.32,257.05 L610.58,257.52 L610.85,257.98 L611.11,258.44 L611.37,258.90 L611.64,259.36 L611.90,259.82 L612.17,260.27 L612.43,260.73 L612.70,261.19 L612.96,261.64 L613.23,262.10 L613.49,262.55 L613.76,263.01 L614.02,263.46 L614.29,263.91 L614.55,264.36 L614.82,264.81 L615.08,265.26 L615.34,265.71 L615.61,266.16 L615.87,266.61 L616.14,267.06 L616.40,267.50 L616.67,267.95 L616.93,268.39 L617.20,268.84 L617.46,269.28 L617.73,269.73 L617.99,270.17 L618.26,270.61 L618.52,271.05 L618.79,271.49 L619.05,271.93 L619.31,272.37 L619.58,272.81 L619.84,273.25 L620.11,273.68 L620.37,274.12 L620.64,274.55 L620.90,274.99 L621.17,275.42 L621.43,275.86 L621.70,276.29 L621.96,276.72 L622.23,277.15 L622.49,277.58 L622.76,278.01 L623.02,278.44 L623.28,278.87 L623.55,279.30 L623.81,279.72 L624.08,280.15 L624.34,280.58 L624.61,281.00 L624.87,281.43 L625.14,281.85 L625.40,282.27 L625.67,282.70 L625.93,283.12 L626.20,283.54 L626.46,283.96 L626.73,284.38 L626.99,284.80 L627.25,285.22 L627.52,285.63 L627.78,286.05 L628.05,286.47 L628.31,286.88 L628.58,287.30 L628.84,287.71 L629.11,288.12 L629.37,288.54 L629.64,288.95 L629.90,289.36 L630.17,289.77 L630.43,290.18 L630.70,290.59 L630.96,291.00 L631.22,291.41 L631.49,291.82 L631.75,292.22 L632.02,292.63 L632.28,293.03 L632.55,293.44 L632.81,293.84 L633.08,294.25 L633.34,294.65 L633.61,295.05 L633.87,295.45 L634.14,295.85 L634.40,296.25 L634.67,296.65 L634.93,297.05 L635.19,297.45 L635.46,297.85 L635.72,298.24 L635.99,298.64 L636.25,299.04 L636.52,299.43 L636.78,299.83 L637.05,300.22 L637.31,300.61 L637.58,301.00 L637.84,301.40 L638.11,301.79 L638.37,302.18 L638.64,302.57 L638.90,302.96 L639.16,303.34 L639.43,303.73 L639.69,304.12 L639.96,304.50 L640.22,304.89 L640.49,305.28 L640.75,305.66 L641.02,306.04 L641.28,306.43 L641.55,306.81 L641.81,307.19 L642.08,307.57 L642.34,307.95 L642.61,308.33 L642.87,308.71 L643.13,309.09 L643.40,309.47 L643.66,309.85 L643.93,310.22 L644.19,310.60 L644.46,310.97 L644.72,311.35 L644.99,311.72 L645.25,312.10 L645.52,312.47 L645.78,312.84 L646.05,313.21 L646.31,313.58 L646.58,313.95 L646.84,314.32 L647.10,314.69 L647.37,315.06 L647.63,315.43 L647.90,315.80 L648.16,316.16 L648.43,316.53 L648.69,316.89 L648.96,317.26 L649.22,317.62 L649.49,317.99 L649.75,318.35 L650.02,318.71 L650.28,319.07 L650.55,319.43 L650.81,319.79 L651.07,320.15 L651.34,320.51 L651.60,320.87 L651.87,321.23 L652.13,321.59 L652.40,321.94 L652.66,322.30 L652.93,322.65 L653.19,323.01 L653.46,323.36 L653.72,323.72 L653.99,324.07 L654.25,324.42 L654.52,324.77 L654.78,325.13 L655.04,325.48 L655.31,325.83 L655.57,326.18 L655.84,326.52 L656.10,326.87 L656.37,327.22 L656.63,327.57 L656.90,327.91 L657.16,328.26 L657.43,328.60 L657.69,328.95 L657.96,329.29 L658.22,329.63 L658.49,329.98 L658.75,330.32 L659.01,330.66 L659.28,331.00 L659.54,331.34 L659.81,331.68 L660.07,332.02 L660.34,332.36 L660.60,332.70 L660.87,333.03 L661.13,333.37 L661.40,333.71 L661.66,334.04 L661.93,334.38 L662.19,334.71 L662.46,335.05 L662.72,335.38 L662.98,335.71 L663.25,336.04 L663.51,336.38 L663.78,336.71 L664.04,337.04 L664.31,337.37 L664.57,337.70 L664.84,338.02 L665.10,338.35 L665.37,338.68 L665.63,339.01 L665.90,339.33 L666.16,339.66 L666.43,339.98 L666.69,340.31 L666.95,340.63 L667.22,340.95 L667.48,341.28 L667.75,341.60 L668.01,341.92 L668.28,342.24 L668.54,342.56 L668.81,342.88 L669.07,343.20 L669.34,343.52 L669.60,343.84 L669.87,344.16 L670.13,344.47 L670.40,344.79 L670.66,345.11 L670.92,345.42 L671.19,345.74 L671.45,346.05 L671.72,346.37 L671.98,346.68 L672.25,346.99 L672.51,347.30 L672.78,347.61 L673.04,347.93 L673.31,348.24 L673.57,348.55 L673.84,348.86 L674.10,349.16 L674.37,349.47 L674.63,349.78 L674.89,350.09 L675.16,350.39 L675.42,350.70 L675.69,351.01 L675.95,351.31 L676.22,351.61 L676.48,351.92 L676.75,352.22 L677.01,352.52 L677.28,352.83 L677.54,353.13 L677.81,353.43 L678.07,353.73 L678.34,354.03 L678.60,354.33" fill="none" stroke="#1a1aff" stroke-width="2" stroke-linejoin="miter"/>
</g>
<circle cx="533.03" cy="343.40" r="2.85" fill="none" stroke="#ff1a1a" stroke-width="1.4"/>
<circle cx="565.59" cy="305.60" r="2.85" fill="none" stroke="#ff1a1a" stroke-width="1.4"/>
<circle cx="585.97" cy="262.90" r="2.85" fill="none" stroke="#ff1a1a" stroke-width="1.4"/>
<circle cx="595.23" cy="248.20" r="2.85" fill="none" stroke="#ff1a1a" stroke-width="1.4"/>
<circle cx="599.20" cy="237.00" r="2.85" fill="none" stroke="#ff1a1a" stroke-width="1.4"/>
<circle cx="607.14" cy="256.60" r="2.85" fill="none" stroke="#ff1a1a" stroke-width="1.4"/>
<circle cx="615.08" cy="263.60" r="2.85" fill="none" stroke="#ff1a1a" stroke-width="1.4"/>
<circle cx="625.67" cy="278.30" r="2.85" fill="none" stroke="#ff1a1a" stroke-width="1.4"/>
<circle cx="638.90" cy="302.10" r="2.85" fill="none" stroke="#ff1a1a" stroke-width="1.4"/>
<circle cx="652.13" cy="316.80" r="2.85" fill="none" stroke="#ff1a1a" stroke-width="1.4"/>
<circle cx="665.37" cy="339.20" r="2.85" fill="none" stroke="#ff1a1a" stroke-width="1.4"/>
<rect x="53" y="7" width="157" height="148.8" fill="none" stroke="#2a2a2a" stroke-width="1.25"/>
<rect x="287.6" y="7" width="159" height="149.3" fill="none" stroke="#2a2a2a" stroke-width="1.25"/>
<rect x="520" y="7" width="159" height="149.4" fill="none" stroke="#2a2a2a" stroke-width="1.25"/>
<rect x="52.6" y="221.4" width="157" height="147.8" fill="none" stroke="#2a2a2a" stroke-width="1.25"/>
<rect x="286.7" y="221.1" width="160.3" height="147.7" fill="none" stroke="#2a2a2a" stroke-width="1.25"/>
<rect x="519.8" y="222.2" width="158.8" height="146.5" fill="none" stroke="#2a2a2a" stroke-width="1.25"/>
<line x1="57.6" y1="155.8" x2="57.6" y2="162.3" stroke="#2a2a2a" stroke-width="1.2"/>
<line x1="88.14" y1="155.8" x2="88.14" y2="162.3" stroke="#2a2a2a" stroke-width="1.2"/>
<line x1="118.68" y1="155.8" x2="118.68" y2="162.3" stroke="#2a2a2a" stroke-width="1.2"/>
<line x1="149.22" y1="155.8" x2="149.22" y2="162.3" stroke="#2a2a2a" stroke-width="1.2"/>
<line x1="179.76" y1="155.8" x2="179.76" y2="162.3" stroke="#2a2a2a" stroke-width="1.2"/>
<line x1="210.3" y1="155.8" x2="210.3" y2="162.3" stroke="#2a2a2a" stroke-width="1.2"/>
<line x1="72.87" y1="155.8" x2="72.87" y2="159.3" stroke="#2a2a2a" stroke-width="1.2"/>
<line x1="103.41" y1="155.8" x2="103.41" y2="159.3" stroke="#2a2a2a" stroke-width="1.2"/>
<line x1="133.95" y1="155.8" x2="133.95" y2="159.3" stroke="#2a2a2a" stroke-width="1.2"/>
<line x1="164.49" y1="155.8" x2="164.49" y2="159.3" stroke="#2a2a2a" stroke-width="1.2"/>
<line x1="195.03" y1="155.8" x2="195.03" y2="159.3" stroke="#2a2a2a" stroke-width="1.2"/>
<text transform="translate(57.6,176.1)" font-size="10.3" text-anchor="middle" letter-spacing="0.75" dx="0.38" >0.0</text>
<text transform="translate(88.14,176.1)" font-size="10.3" text-anchor="middle" letter-spacing="0.75" dx="0.38" >0.2</text>
<text transform="translate(118.68,176.1)" font-size="10.3" text-anchor="middle" letter-spacing="0.75" dx="0.38" >0.4</text>
<text transform="translate(149.22,176.1)" font-size="10.3" text-anchor="middle" letter-spacing="0.75" dx="0.38" >0.6</text>
<text transform="translate(179.76,176.1)" font-size="10.3" text-anchor="middle" letter-spacing="0.75" dx="0.38" >0.8</text>
<text transform="translate(210.3,176.1)" font-size="10.3" text-anchor="middle" letter-spacing="0.75" dx="0.38" >1.0</text>
<line x1="46.5" y1="148.1" x2="53" y2="148.1" stroke="#2a2a2a" stroke-width="1.2"/>
<line x1="46.5" y1="107.8" x2="53" y2="107.8" stroke="#2a2a2a" stroke-width="1.2"/>
<line x1="46.5" y1="67.5" x2="53" y2="67.5" stroke="#2a2a2a" stroke-width="1.2"/>
<line x1="46.5" y1="27.2" x2="53" y2="27.2" stroke="#2a2a2a" stroke-width="1.2"/>
<text transform="translate(41.7,152.4)" font-size="10.3" text-anchor="end" letter-spacing="0.75" dx="0.75" >0</text>
<text transform="translate(41.7,112.1)" font-size="10.3" text-anchor="end" letter-spacing="0.75" dx="0.75" >50</text>
<text transform="translate(41.7,71.8)" font-size="10.3" text-anchor="end" letter-spacing="0.75" dx="0.75" >100</text>
<text transform="translate(41.7,31.5)" font-size="10.3" text-anchor="end" letter-spacing="0.75" dx="0.75" >150</text>
<line x1="292.6" y1="156.3" x2="292.6" y2="162.8" stroke="#2a2a2a" stroke-width="1.2"/>
<line x1="326.95" y1="156.3" x2="326.95" y2="162.8" stroke="#2a2a2a" stroke-width="1.2"/>
<line x1="361.3" y1="156.3" x2="361.3" y2="162.8" stroke="#2a2a2a" stroke-width="1.2"/>
<line x1="395.65" y1="156.3" x2="395.65" y2="162.8" stroke="#2a2a2a" stroke-width="1.2"/>
<line x1="430" y1="156.3" x2="430" y2="162.8" stroke="#2a2a2a" stroke-width="1.2"/>
<line x1="309.78" y1="156.3" x2="309.78" y2="159.8" stroke="#2a2a2a" stroke-width="1.2"/>
<line x1="344.12" y1="156.3" x2="344.12" y2="159.8" stroke="#2a2a2a" stroke-width="1.2"/>
<line x1="378.48" y1="156.3" x2="378.48" y2="159.8" stroke="#2a2a2a" stroke-width="1.2"/>
<line x1="412.82" y1="156.3" x2="412.82" y2="159.8" stroke="#2a2a2a" stroke-width="1.2"/>
<text transform="translate(292.6,176.6)" font-size="10.3" text-anchor="middle" letter-spacing="0.75" dx="0.38" >0</text>
<text transform="translate(326.95,176.6)" font-size="10.3" text-anchor="middle" letter-spacing="0.75" dx="0.38" >2</text>
<text transform="translate(361.3,176.6)" font-size="10.3" text-anchor="middle" letter-spacing="0.75" dx="0.38" >4</text>
<text transform="translate(395.65,176.6)" font-size="10.3" text-anchor="middle" letter-spacing="0.75" dx="0.38" >6</text>
<text transform="translate(430,176.6)" font-size="10.3" text-anchor="middle" letter-spacing="0.75" dx="0.38" >8</text>
<line x1="281.1" y1="148.4" x2="287.6" y2="148.4" stroke="#2a2a2a" stroke-width="1.2"/>
<line x1="281.1" y1="108" x2="287.6" y2="108" stroke="#2a2a2a" stroke-width="1.2"/>
<line x1="281.1" y1="67.6" x2="287.6" y2="67.6" stroke="#2a2a2a" stroke-width="1.2"/>
<line x1="281.1" y1="27.2" x2="287.6" y2="27.2" stroke="#2a2a2a" stroke-width="1.2"/>
<text transform="translate(275.2,152.7)" font-size="10.3" text-anchor="end" letter-spacing="0.75" dx="0.75" >0</text>
<text transform="translate(275.2,112.3)" font-size="10.3" text-anchor="end" letter-spacing="0.75" dx="0.75" >50</text>
<text transform="translate(275.2,71.9)" font-size="10.3" text-anchor="end" letter-spacing="0.75" dx="0.75" >100</text>
<text transform="translate(275.2,31.5)" font-size="10.3" text-anchor="end" letter-spacing="0.75" dx="0.75" >150</text>
<line x1="539.6" y1="156.4" x2="539.6" y2="162.9" stroke="#2a2a2a" stroke-width="1.2"/>
<line x1="584.2" y1="156.4" x2="584.2" y2="162.9" stroke="#2a2a2a" stroke-width="1.2"/>
<line x1="628.8" y1="156.4" x2="628.8" y2="162.9" stroke="#2a2a2a" stroke-width="1.2"/>
<line x1="673.4" y1="156.4" x2="673.4" y2="162.9" stroke="#2a2a2a" stroke-width="1.2"/>
<line x1="561.9" y1="156.4" x2="561.9" y2="159.9" stroke="#2a2a2a" stroke-width="1.2"/>
<line x1="606.5" y1="156.4" x2="606.5" y2="159.9" stroke="#2a2a2a" stroke-width="1.2"/>
<line x1="651.1" y1="156.4" x2="651.1" y2="159.9" stroke="#2a2a2a" stroke-width="1.2"/>
<text transform="translate(539.6,176.9)" font-size="10.3" text-anchor="middle" letter-spacing="0.75" dx="0.38" >0.4</text>
<text transform="translate(584.2,176.9)" font-size="10.3" text-anchor="middle" letter-spacing="0.75" dx="0.38" >0.8</text>
<text transform="translate(628.8,176.9)" font-size="10.3" text-anchor="middle" letter-spacing="0.75" dx="0.38" >1.2</text>
<text transform="translate(673.4,176.9)" font-size="10.3" text-anchor="middle" letter-spacing="0.75" dx="0.38" >1.6</text>
<line x1="513.5" y1="149.4" x2="520" y2="149.4" stroke="#2a2a2a" stroke-width="1.2"/>
<line x1="513.5" y1="125.3" x2="520" y2="125.3" stroke="#2a2a2a" stroke-width="1.2"/>
<line x1="513.5" y1="101.2" x2="520" y2="101.2" stroke="#2a2a2a" stroke-width="1.2"/>
<line x1="513.5" y1="77.1" x2="520" y2="77.1" stroke="#2a2a2a" stroke-width="1.2"/>
<line x1="513.5" y1="53" x2="520" y2="53" stroke="#2a2a2a" stroke-width="1.2"/>
<line x1="513.5" y1="28.9" x2="520" y2="28.9" stroke="#2a2a2a" stroke-width="1.2"/>
<text transform="translate(509.4,153.7)" font-size="10.3" text-anchor="end" letter-spacing="0.75" dx="0.75" >0</text>
<text transform="translate(509.4,129.6)" font-size="10.3" text-anchor="end" letter-spacing="0.75" dx="0.75" >1</text>
<text transform="translate(509.4,105.5)" font-size="10.3" text-anchor="end" letter-spacing="0.75" dx="0.75" >2</text>
<text transform="translate(509.4,81.4)" font-size="10.3" text-anchor="end" letter-spacing="0.75" dx="0.75" >3</text>
<text transform="translate(509.4,57.3)" font-size="10.3" text-anchor="end" letter-spacing="0.75" dx="0.75" >4</text>
<text transform="translate(509.4,33.2)" font-size="10.3" text-anchor="end" letter-spacing="0.75" dx="0.75" >5</text>
<line x1="54.5" y1="369.2" x2="54.5" y2="375.7" stroke="#2a2a2a" stroke-width="1.2"/>
<line x1="89.1" y1="369.2" x2="89.1" y2="375.7" stroke="#2a2a2a" stroke-width="1.2"/>
<line x1="123.7" y1="369.2" x2="123.7" y2="375.7" stroke="#2a2a2a" stroke-width="1.2"/>
<line x1="158.3" y1="369.2" x2="158.3" y2="375.7" stroke="#2a2a2a" stroke-width="1.2"/>
<line x1="192.9" y1="369.2" x2="192.9" y2="375.7" stroke="#2a2a2a" stroke-width="1.2"/>
<line x1="71.8" y1="369.2" x2="71.8" y2="372.7" stroke="#2a2a2a" stroke-width="1.2"/>
<line x1="106.4" y1="369.2" x2="106.4" y2="372.7" stroke="#2a2a2a" stroke-width="1.2"/>
<line x1="141" y1="369.2" x2="141" y2="372.7" stroke="#2a2a2a" stroke-width="1.2"/>
<line x1="175.6" y1="369.2" x2="175.6" y2="372.7" stroke="#2a2a2a" stroke-width="1.2"/>
<text transform="translate(54.5,389.5)" font-size="10.3" text-anchor="middle" letter-spacing="0.75" dx="0.38" >0</text>
<text transform="translate(89.1,389.5)" font-size="10.3" text-anchor="middle" letter-spacing="0.75" dx="0.38" >2</text>
<text transform="translate(123.7,389.5)" font-size="10.3" text-anchor="middle" letter-spacing="0.75" dx="0.38" >4</text>
<text transform="translate(158.3,389.5)" font-size="10.3" text-anchor="middle" letter-spacing="0.75" dx="0.38" >6</text>
<text transform="translate(192.9,389.5)" font-size="10.3" text-anchor="middle" letter-spacing="0.75" dx="0.38" >8</text>
<line x1="46.1" y1="361.3" x2="52.6" y2="361.3" stroke="#2a2a2a" stroke-width="1.2"/>
<line x1="46.1" y1="322.5" x2="52.6" y2="322.5" stroke="#2a2a2a" stroke-width="1.2"/>
<line x1="46.1" y1="283.7" x2="52.6" y2="283.7" stroke="#2a2a2a" stroke-width="1.2"/>
<line x1="46.1" y1="244.9" x2="52.6" y2="244.9" stroke="#2a2a2a" stroke-width="1.2"/>
<text transform="translate(40.5,365.6)" font-size="10.3" text-anchor="end" letter-spacing="0.45" dx="0.45" >0</text>
<text transform="translate(40.5,326.8)" font-size="10.3" text-anchor="end" letter-spacing="0.45" dx="0.45" >50</text>
<text transform="translate(40.5,288)" font-size="10.3" text-anchor="end" letter-spacing="0.45" dx="0.45" >100</text>
<text transform="translate(40.5,249.2)" font-size="10.3" text-anchor="end" letter-spacing="0.45" dx="0.45" >150</text>
<line x1="286.8" y1="368.8" x2="286.8" y2="376.1" stroke="#2a2a2a" stroke-width="1.2"/>
<line x1="318.8" y1="368.8" x2="318.8" y2="376.1" stroke="#2a2a2a" stroke-width="1.2"/>
<line x1="350.8" y1="368.8" x2="350.8" y2="376.1" stroke="#2a2a2a" stroke-width="1.2"/>
<line x1="382.8" y1="368.8" x2="382.8" y2="376.1" stroke="#2a2a2a" stroke-width="1.2"/>
<line x1="414.8" y1="368.8" x2="414.8" y2="376.1" stroke="#2a2a2a" stroke-width="1.2"/>
<line x1="446.8" y1="368.8" x2="446.8" y2="376.1" stroke="#2a2a2a" stroke-width="1.2"/>
<text transform="translate(286.8,389.1)" font-size="10.3" text-anchor="middle" letter-spacing="0.75" dx="0.38" >0</text>
<text transform="translate(318.8,389.1)" font-size="10.3" text-anchor="middle" letter-spacing="0.75" dx="0.38" >20</text>
<text transform="translate(350.8,389.1)" font-size="10.3" text-anchor="middle" letter-spacing="0.75" dx="0.38" >40</text>
<text transform="translate(382.8,389.1)" font-size="10.3" text-anchor="middle" letter-spacing="0.75" dx="0.38" >60</text>
<text transform="translate(414.8,389.1)" font-size="10.3" text-anchor="middle" letter-spacing="0.75" dx="0.38" >80</text>
<text transform="translate(446.8,389.1)" font-size="10.3" text-anchor="middle" letter-spacing="0.75" dx="0.38" >100</text>
<line x1="280.2" y1="354.3" x2="286.7" y2="354.3" stroke="#2a2a2a" stroke-width="1.2"/>
<line x1="280.2" y1="324.58" x2="286.7" y2="324.58" stroke="#2a2a2a" stroke-width="1.2"/>
<line x1="280.2" y1="294.85" x2="286.7" y2="294.85" stroke="#2a2a2a" stroke-width="1.2"/>
<line x1="280.2" y1="265.12" x2="286.7" y2="265.12" stroke="#2a2a2a" stroke-width="1.2"/>
<line x1="280.2" y1="235.4" x2="286.7" y2="235.4" stroke="#2a2a2a" stroke-width="1.2"/>
<text transform="translate(276.1,359.1)" font-size="10.3" text-anchor="end" letter-spacing="0.75" dx="0.75" >1</text>
<text transform="translate(276.1,329.38)" font-size="10.3" text-anchor="end" letter-spacing="0.75" dx="0.75" >2</text>
<text transform="translate(276.1,299.65)" font-size="10.3" text-anchor="end" letter-spacing="0.75" dx="0.75" >3</text>
<text transform="translate(276.1,269.93)" font-size="10.3" text-anchor="end" letter-spacing="0.75" dx="0.75" >4</text>
<text transform="translate(276.1,240.2)" font-size="10.3" text-anchor="end" letter-spacing="0.75" dx="0.75" >5</text>
<line x1="519.8" y1="368.7" x2="519.8" y2="376" stroke="#2a2a2a" stroke-width="1.2"/>
<line x1="546.27" y1="368.7" x2="546.27" y2="376" stroke="#2a2a2a" stroke-width="1.2"/>
<line x1="572.73" y1="368.7" x2="572.73" y2="376" stroke="#2a2a2a" stroke-width="1.2"/>
<line x1="599.2" y1="368.7" x2="599.2" y2="376" stroke="#2a2a2a" stroke-width="1.2"/>
<line x1="625.67" y1="368.7" x2="625.67" y2="376" stroke="#2a2a2a" stroke-width="1.2"/>
<line x1="652.13" y1="368.7" x2="652.13" y2="376" stroke="#2a2a2a" stroke-width="1.2"/>
<line x1="678.6" y1="368.7" x2="678.6" y2="376" stroke="#2a2a2a" stroke-width="1.2"/>
<line x1="533.03" y1="368.7" x2="533.03" y2="372.7" stroke="#2a2a2a" stroke-width="1.2"/>
<line x1="559.5" y1="368.7" x2="559.5" y2="372.7" stroke="#2a2a2a" stroke-width="1.2"/>
<line x1="585.97" y1="368.7" x2="585.97" y2="372.7" stroke="#2a2a2a" stroke-width="1.2"/>
<line x1="612.43" y1="368.7" x2="612.43" y2="372.7" stroke="#2a2a2a" stroke-width="1.2"/>
<line x1="638.9" y1="368.7" x2="638.9" y2="372.7" stroke="#2a2a2a" stroke-width="1.2"/>
<line x1="665.37" y1="368.7" x2="665.37" y2="372.7" stroke="#2a2a2a" stroke-width="1.2"/>
<text transform="translate(519.8,389)" font-size="10.3" text-anchor="middle" letter-spacing="0.75" dx="0.38" >84</text>
<text transform="translate(546.27,389)" font-size="10.3" text-anchor="middle" letter-spacing="0.75" dx="0.38" >86</text>
<text transform="translate(572.73,389)" font-size="10.3" text-anchor="middle" letter-spacing="0.75" dx="0.38" >88</text>
<text transform="translate(599.2,389)" font-size="10.3" text-anchor="middle" letter-spacing="0.75" dx="0.38" >90</text>
<text transform="translate(625.67,389)" font-size="10.3" text-anchor="middle" letter-spacing="0.75" dx="0.38" >92</text>
<text transform="translate(652.13,389)" font-size="10.3" text-anchor="middle" letter-spacing="0.75" dx="0.38" >94</text>
<text transform="translate(678.6,389)" font-size="10.3" text-anchor="middle" letter-spacing="0.75" dx="0.38" >96</text>
<line x1="513.3" y1="347.6" x2="519.8" y2="347.6" stroke="#2a2a2a" stroke-width="1.2"/>
<line x1="513.3" y1="312.6" x2="519.8" y2="312.6" stroke="#2a2a2a" stroke-width="1.2"/>
<line x1="513.3" y1="277.6" x2="519.8" y2="277.6" stroke="#2a2a2a" stroke-width="1.2"/>
<line x1="513.3" y1="242.6" x2="519.8" y2="242.6" stroke="#2a2a2a" stroke-width="1.2"/>
<text transform="translate(509.2,351.9)" font-size="10.3" text-anchor="end" letter-spacing="0.75" dx="0.75" >3.5</text>
<text transform="translate(509.2,316.9)" font-size="10.3" text-anchor="end" letter-spacing="0.75" dx="0.75" >4.0</text>
<text transform="translate(509.2,281.9)" font-size="10.3" text-anchor="end" letter-spacing="0.75" dx="0.75" >4.5</text>
<text transform="translate(509.2,246.9)" font-size="10.3" text-anchor="end" letter-spacing="0.75" dx="0.75" >5.0</text>
<text x="-0.5" y="11.9" font-size="16.5" font-weight="bold" fill="#000">a</text>
<text x="235" y="11.9" font-size="16.5" font-weight="bold" fill="#000">b</text>
<text x="473.5" y="11.9" font-size="16.5" font-weight="bold" fill="#000">c</text>
<text x="-1" y="226.1" font-size="16.5" font-weight="bold" fill="#000">d</text>
<text x="234.8" y="226.1" font-size="16.5" font-weight="bold" fill="#000">e</text>
<text x="473.8" y="226.1" font-size="16.5" font-weight="bold" fill="#000">f</text>
<text transform="translate(14.3,85.1) rotate(-90)" font-size="10.5" text-anchor="middle" ><tspan font-style="italic" font-size="11">R</tspan><tspan dx="1.6">(</tspan><tspan font-size="9.6" dx="1.1">Ω</tspan><tspan dx="2.9" style="fill:#a8a8a8">□</tspan><tspan font-size="7.6" dy="-4.1" dx="1.1">−1</tspan><tspan dy="4.1" dx="1.4">)</tspan></text>
<text transform="translate(249,83) rotate(-90)" font-size="10.5" text-anchor="middle" ><tspan font-style="italic" font-size="11">R</tspan><tspan dx="1.6">(</tspan><tspan font-size="9.6" dx="1.1">Ω</tspan><tspan dx="2.9" style="fill:#a8a8a8">□</tspan><tspan font-size="7.6" dy="-4.1" dx="1.1">−1</tspan><tspan dy="4.1" dx="1.4">)</tspan></text>
<text transform="translate(14.3,296.7) rotate(-90)" font-size="10.5" text-anchor="middle" ><tspan font-style="italic" font-size="11">R</tspan><tspan dx="1.6">(</tspan><tspan font-size="9.6" dx="1.1">Ω</tspan><tspan dx="2.9" style="fill:#a8a8a8">□</tspan><tspan font-size="7.6" dy="-4.1" dx="1.1">−1</tspan><tspan dy="4.1" dx="1.4">)</tspan></text>
<text transform="translate(492.3,85.6) rotate(-90)" font-size="10.5" text-anchor="middle" letter-spacing="0.1" dx="0.05" ><tspan font-style="italic">μ</tspan><tspan font-size="8.61" dy="3.15">0</tspan><tspan font-style="italic" dy="-3.15">H</tspan><tspan font-size="8.61" dy="3.15">C2</tspan><tspan dy="-3.15"> (T)</tspan></text>
<text transform="translate(259.3,298.6) rotate(-90)" font-size="10.5" text-anchor="middle" letter-spacing="0.1" dx="0.05" ><tspan font-style="italic">μ</tspan><tspan font-size="8.61" dy="3.15">0</tspan><tspan font-style="italic" dy="-3.15">H</tspan><tspan font-size="8.61" dy="3.15">C2</tspan><tspan dy="-3.15"> (T)</tspan></text>
<text transform="translate(483.9,298.2) rotate(-90)" font-size="10.5" text-anchor="middle" letter-spacing="0.1" dx="0.05" ><tspan font-style="italic">μ</tspan><tspan font-size="8.61" dy="3.15">0</tspan><tspan font-style="italic" dy="-3.15">H</tspan><tspan font-size="8.61" dy="3.15">C2</tspan><tspan dy="-3.15"> (T)</tspan></text>
<text transform="translate(108.3,192.2)" font-size="10.3" text-anchor="start" letter-spacing="0.2" ><tspan font-style="italic">μ</tspan><tspan font-size="8.45" dy="3.09">0</tspan><tspan font-style="italic" dy="-3.09">H</tspan><tspan font-size="8.45" dy="3.09">   </tspan><tspan dy="-3.09"> (T)</tspan></text>
<path d="M127.6,195.3 h4.2 M129.7,195.3 v-4.6" stroke="#222" stroke-width="0.75" fill="none"/>
<text transform="translate(344,192.2)" font-size="10.3" text-anchor="start" letter-spacing="0.2" ><tspan font-style="italic">μ</tspan><tspan font-size="8.45" dy="3.09">0</tspan><tspan font-style="italic" dy="-3.09">H</tspan><tspan font-size="8.45" dy="3.09">‖</tspan><tspan dy="-3.09"> (T)</tspan></text>
<text transform="translate(585.2,193.6)" font-size="10.3" text-anchor="start" letter-spacing="0.2" ><tspan font-style="italic">T</tspan><tspan> (K)</tspan></text>
<text transform="translate(110.9,404.2)" font-size="10.3" text-anchor="start" letter-spacing="0.2" ><tspan font-style="italic">μ</tspan><tspan font-size="8.45" dy="3.09">0</tspan><tspan font-style="italic" dy="-3.09">H</tspan><tspan> (T)</tspan></text>
<text transform="translate(354.3,405.4)" font-size="10.3" text-anchor="start" letter-spacing="0.2" ><tspan font-style="italic">θ</tspan><tspan> (°)</tspan></text>
<text transform="translate(586.5,405.4)" font-size="10.3" text-anchor="start" letter-spacing="0.2" ><tspan font-style="italic">θ</tspan><tspan> (°)</tspan></text>
<text transform="translate(180.6,37.6)" font-size="7.3" text-anchor="start" letter-spacing="0.3" ><tspan font-style="italic">θ</tspan><tspan> = 0°</tspan></text>
<circle cx="176" cy="44.5" r="1.05" fill="#ffe800"/>
<text transform="translate(180.6,46.9)" font-size="7.3" text-anchor="start" letter-spacing="0.3" >0.31 K</text>
<circle cx="176" cy="53.88" r="1.05" fill="#99ea00"/>
<text transform="translate(180.6,56.28)" font-size="7.3" text-anchor="start" letter-spacing="0.3" >0.41 K</text>
<circle cx="176" cy="63.26" r="1.05" fill="#22ee00"/>
<text transform="translate(180.6,65.66)" font-size="7.3" text-anchor="start" letter-spacing="0.3" >0.62 K</text>
<circle cx="176" cy="72.64" r="1.05" fill="#00ee66"/>
<text transform="translate(180.6,75.04)" font-size="7.3" text-anchor="start" letter-spacing="0.3" >0.85 K</text>
<circle cx="176" cy="82.02" r="1.05" fill="#00eecc"/>
<text transform="translate(180.6,84.42)" font-size="7.3" text-anchor="start" letter-spacing="0.3" >1.03 K</text>
<circle cx="176" cy="91.4" r="1.05" fill="#00b4ff"/>
<text transform="translate(180.6,93.8)" font-size="7.3" text-anchor="start" letter-spacing="0.3" >1.24 K</text>
<circle cx="176" cy="100.78" r="1.05" fill="#0048ff"/>
<text transform="translate(180.6,103.18)" font-size="7.3" text-anchor="start" letter-spacing="0.3" >1.41 K</text>
<circle cx="176" cy="110.16" r="1.05" fill="#2a00ff"/>
<text transform="translate(180.6,112.56)" font-size="7.3" text-anchor="start" letter-spacing="0.3" >1.53 K</text>
<circle cx="176" cy="119.54" r="1.05" fill="#a000ff"/>
<text transform="translate(180.6,121.94)" font-size="7.3" text-anchor="start" letter-spacing="0.3" >1.59 K</text>
<circle cx="176" cy="128.92" r="1.05" fill="#ff00d0"/>
<text transform="translate(180.6,131.32)" font-size="7.3" text-anchor="start" letter-spacing="0.3" >1.65 K</text>
<circle cx="176" cy="138.3" r="1.05" fill="#ff0000"/>
<text transform="translate(180.6,140.7)" font-size="7.3" text-anchor="start" letter-spacing="0.3" >2.1 K</text>
<text transform="translate(413.8,36.9)" font-size="7.3" text-anchor="start" letter-spacing="0.3" ><tspan font-style="italic">θ</tspan><tspan> = 90°</tspan></text>
<circle cx="409.1" cy="44.1" r="1.05" fill="#ffa200"/>
<text transform="translate(413.8,46.5)" font-size="7.3" text-anchor="start" letter-spacing="0.3" >0.31 K</text>
<circle cx="409.1" cy="53.47" r="1.05" fill="#e2f000"/>
<text transform="translate(413.8,55.87)" font-size="7.3" text-anchor="start" letter-spacing="0.3" >0.41 K</text>
<circle cx="409.1" cy="62.84" r="1.05" fill="#00f060"/>
<text transform="translate(413.8,65.24)" font-size="7.3" text-anchor="start" letter-spacing="0.3" >0.61 K</text>
<circle cx="409.1" cy="72.21" r="1.05" fill="#00c8ff"/>
<text transform="translate(413.8,74.61)" font-size="7.3" text-anchor="start" letter-spacing="0.3" >0.85 K</text>
<circle cx="409.1" cy="81.58" r="1.05" fill="#0070ff"/>
<text transform="translate(413.8,83.98)" font-size="7.3" text-anchor="start" letter-spacing="0.3" >1.04 K</text>
<circle cx="409.1" cy="90.95" r="1.05" fill="#0030ff"/>
<text transform="translate(413.8,93.35)" font-size="7.3" text-anchor="start" letter-spacing="0.3" >1.16 K</text>
<circle cx="409.1" cy="100.32" r="1.05" fill="#5a00ff"/>
<text transform="translate(413.8,102.72)" font-size="7.3" text-anchor="start" letter-spacing="0.3" >1.40 K</text>
<circle cx="409.1" cy="109.69" r="1.05" fill="#9000ff"/>
<text transform="translate(413.8,112.09)" font-size="7.3" text-anchor="start" letter-spacing="0.3" >1.49 K</text>
<circle cx="409.1" cy="119.06" r="1.05" fill="#c800ff"/>
<text transform="translate(413.8,121.46)" font-size="7.3" text-anchor="start" letter-spacing="0.3" >1.53 K</text>
<circle cx="409.1" cy="128.43" r="1.05" fill="#ff00d8"/>
<text transform="translate(413.8,130.83)" font-size="7.3" text-anchor="start" letter-spacing="0.3" >1.58 K</text>
<circle cx="409.1" cy="137.8" r="1.05" fill="#ff0070"/>
<text transform="translate(413.8,140.2)" font-size="7.3" text-anchor="start" letter-spacing="0.3" >1.65 K</text>
<circle cx="409.1" cy="147.17" r="1.05" fill="#ff0000"/>
<text transform="translate(413.8,149.57)" font-size="7.3" text-anchor="start" letter-spacing="0.3" >2.0 K</text>
<circle cx="181.4" cy="250.1" r="1.05" fill="#1565c8"/>
<text transform="translate(185.8,252.5)" font-size="7.3" text-anchor="start" letter-spacing="0.3" >0°</text>
<circle cx="181.4" cy="260.29" r="1.05" fill="#1e9bd2"/>
<text transform="translate(185.8,262.69)" font-size="7.3" text-anchor="start" letter-spacing="0.3" >32.5°</text>
<circle cx="181.4" cy="270.48" r="1.05" fill="#15a598"/>
<text transform="translate(185.8,272.88)" font-size="7.3" text-anchor="start" letter-spacing="0.3" >47.5°</text>
<circle cx="181.4" cy="280.67" r="1.05" fill="#17a04a"/>
<text transform="translate(185.8,283.07)" font-size="7.3" text-anchor="start" letter-spacing="0.3" >62.5°</text>
<circle cx="181.4" cy="290.86" r="1.05" fill="#35aa38"/>
<text transform="translate(185.8,293.26)" font-size="7.3" text-anchor="start" letter-spacing="0.3" >75.5°</text>
<circle cx="181.4" cy="301.05" r="1.05" fill="#8ec31f"/>
<text transform="translate(185.8,303.45)" font-size="7.3" text-anchor="start" letter-spacing="0.3" >80°</text>
<circle cx="181.4" cy="311.24" r="1.05" fill="#c6d50a"/>
<text transform="translate(185.8,313.64)" font-size="7.3" text-anchor="start" letter-spacing="0.3" >82.5°</text>
<circle cx="181.4" cy="321.43" r="1.05" fill="#f5f000"/>
<text transform="translate(185.8,323.83)" font-size="7.3" text-anchor="start" letter-spacing="0.3" >85°</text>
<circle cx="181.4" cy="331.62" r="1.05" fill="#ffbe00"/>
<text transform="translate(185.8,334.02)" font-size="7.3" text-anchor="start" letter-spacing="0.3" >87.5°</text>
<circle cx="181.4" cy="341.81" r="1.05" fill="#ff9800"/>
<text transform="translate(185.8,344.21)" font-size="7.3" text-anchor="start" letter-spacing="0.3" >89°</text>
<circle cx="181.4" cy="352" r="1.05" fill="#ff6a00"/>
<text transform="translate(185.8,354.4)" font-size="7.3" text-anchor="start" letter-spacing="0.3" >89.5°</text>
<circle cx="181.4" cy="362.19" r="1.05" fill="#ff1000"/>
<text transform="translate(185.8,364.59)" font-size="7.3" text-anchor="start" letter-spacing="0.3" >90°</text>
<text transform="translate(543.3,54.9)" font-size="10" text-anchor="start" style="fill:#ff2a2a"><tspan font-style="italic">μ</tspan><tspan font-size="8.20" dy="3.00">0</tspan><tspan font-style="italic" dy="-3.00">H</tspan><tspan font-size="8.20" dy="3.00">c2,</tspan><tspan font-size="8.20">‖</tspan></text>
<text transform="translate(540.9,124.4)" font-size="10" text-anchor="start" style="fill:#2a2aff"><tspan font-style="italic">μ</tspan><tspan font-size="8.20" dy="3.00">0</tspan><tspan font-style="italic" dy="-3.00">H</tspan><tspan font-size="8.20" dy="3.00">c2,</tspan></text>
<path d="M569.6,128.2 h4.62 M571.91,128.2 v-5.06" stroke="#2a2aff" stroke-width="0.75" fill="none"/>
<text transform="translate(638.9,248)" font-size="9.2" text-anchor="start" letter-spacing="0.25" style="fill:#22dd22">3D-GL</text>
<text transform="translate(574.3,349.7)" font-size="9.2" text-anchor="start" letter-spacing="0.15" style="fill:#2020ff">2D-Tinkham</text>
<line x1="663.1" y1="296.2" x2="655.07" y2="265.47" stroke="#22dd22" stroke-width="1.6"/>
<path d="M653.3,258.7 L657.98,265.74 L652.66,267.14 Z" fill="#22dd22"/>
<line x1="573.8" y1="340.3" x2="559.85" y2="316.63" stroke="#2020ff" stroke-width="1.6"/>
<path d="M556.3,310.6 L562.73,316.1 L557.99,318.89 Z" fill="#2020ff"/>
<path d="M305.9,300.8 L370.3,300.8 L370.3,304.8 L305.9,304.8 Z" fill="#38a8a8"/>
<path d="M370.3,300.8 L384.1,280.3 L384.1,284.3 L370.3,304.8 Z" fill="#2f9a9a"/>
<path d="M321,280.3 L384.1,280.3 L370.3,300.8 L305.9,300.8 Z" fill="#5ef4f4"/>
<path d="M316.62,286.25 L379.09,286.25 L375.47,291.17 L313.00,291.17 Z" fill="#f01ee6"/>
<path d="M319.54,283.99 L324.97,283.99 L323.16,286.45 L317.73,286.45 Z" fill="#f01ee6"/>
<path d="M334.06,283.99 L341.94,283.99 L340.13,286.45 L332.24,286.45 Z" fill="#f01ee6"/>
<path d="M355.51,283.99 L364.34,283.99 L362.53,286.45 L353.70,286.45 Z" fill="#f01ee6"/>
<path d="M371.92,283.99 L378.23,283.99 L376.42,286.45 L370.10,286.45 Z" fill="#f01ee6"/>
<path d="M327.03,290.96 L334.79,290.96 L332.98,293.42 L325.22,293.42 Z" fill="#f01ee6"/>
<path d="M346.59,290.96 L358.58,290.96 L356.77,293.42 L344.78,293.42 Z" fill="#f01ee6"/>
<path d="M367.41,290.96 L374.99,290.96 L373.17,293.42 L365.60,293.42 Z" fill="#f01ee6"/>
<path d="M345.3,267.4 A20.5,20.5 0 0 0 334.05,270.77" fill="none" stroke="#22ee22" stroke-width="1.6"/>
<path d="M338.6,292.8 Q345.5,300.8 354.2,293.2" fill="none" stroke="#ff1a1a" stroke-width="1.6"/>
<line x1="345.3" y1="287.9" x2="321.82" y2="252.24" stroke="#22ee22" stroke-width="2.0"/>
<path d="M316.6,244.3 L325.71,250.87 L319.03,255.27 Z" fill="#22ee22"/>
<line x1="345.3" y1="287.9" x2="376.85" y2="305.84" stroke="#ff1a1a" stroke-width="2.0"/>
<path d="M383.8,309.8 L374.12,308.61 L377.83,302.09 Z" fill="#ff1a1a"/>
<line x1="345.3" y1="287.9" x2="320.17" y2="312.95" stroke="#1010ff" stroke-width="2.2"/>
<path d="M314.5,318.6 L318.05,309.41 L323.7,315.08 Z" fill="#1010ff"/>
<line x1="345.3" y1="287.9" x2="393" y2="288.07" stroke="#1010ff" stroke-width="2.2"/>
<path d="M401.5,288.1 L391.99,291.82 L392.01,284.32 Z" fill="#1010ff"/>
<line x1="345.3" y1="288.4" x2="345.3" y2="237.3" stroke="#1010ff" stroke-width="2.4"/>
<path d="M345.3,226.3 L349.55,238.3 L341.05,238.3 Z" fill="#1010ff"/>
<text transform="translate(352.4,236.6)" font-size="9.5" text-anchor="start" style="fill:#1010ff"><tspan font-style="italic">z</tspan></text>
<text transform="translate(393.2,281.5)" font-size="9.5" text-anchor="start" style="fill:#1010ff"><tspan font-style="italic">y</tspan></text>
<text transform="translate(323.8,320.8)" font-size="9.5" text-anchor="start" style="fill:#1010ff"><tspan font-style="italic">x</tspan></text>
<text transform="translate(293.4,257.2)" font-size="8.6" text-anchor="start" style="fill:#33ee33"><tspan font-style="italic">μ</tspan><tspan font-size="7.05" dy="2.58">0</tspan><tspan font-style="italic" dy="-2.58">H</tspan><tspan font-size="7.05" dy="2.58">out</tspan></text>
<text transform="translate(367.8,320.8)" font-size="8.6" text-anchor="start" style="fill:#ff2a2a"><tspan font-style="italic">μ</tspan><tspan font-size="7.05" dy="2.58">0</tspan><tspan font-style="italic" dy="-2.58">H</tspan><tspan font-size="7.05" dy="2.58">in</tspan></text>
<text transform="translate(334.3,261.6)" font-size="8.6" text-anchor="start" style="fill:#33ee33"><tspan font-style="italic">θ</tspan></text>
<text transform="translate(339.8,309.6)" font-size="8.6" text-anchor="start" style="fill:#ff2a2a"><tspan font-style="italic">φ</tspan></text>
</svg>
</body></html>
